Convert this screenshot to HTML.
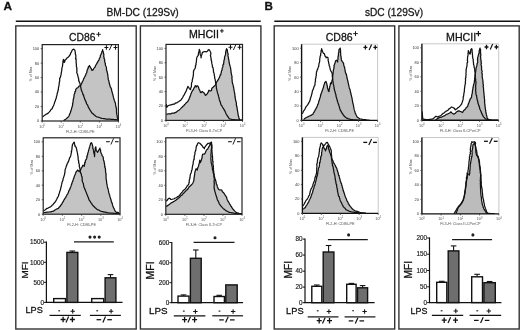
<!DOCTYPE html>
<html><head><meta charset="utf-8"><style>
html,body{margin:0;padding:0;background:#fff;}
svg{display:block;font-family:"Liberation Sans", sans-serif;filter:blur(0.4px);}
.b{stroke:#111;stroke-width:0.28px;}
</style></head><body>
<svg width="520" height="330" viewBox="0 0 520 330">
<rect width="520" height="330" fill="#fff"/>
<text class="b" x="3.6" y="9.8" font-size="11.8" text-anchor="start" fill="#111" font-weight="bold" >A</text>
<text class="b" x="264.4" y="9.8" font-size="11.6" text-anchor="start" fill="#111" font-weight="bold" >B</text>
<text class="b" x="142.6" y="16.0" font-size="11" text-anchor="middle" fill="#1a1a1a" font-weight="normal" textLength="72.3" lengthAdjust="spacingAndGlyphs">BM-DC (129Sv)</text>
<text class="b" x="394.0" y="16.0" font-size="11" text-anchor="middle" fill="#1a1a1a" font-weight="normal" textLength="58.2" lengthAdjust="spacingAndGlyphs">sDC (129Sv)</text>
<line x1="15.8" y1="21.2" x2="260.7" y2="21.2" stroke="#111" stroke-width="1.6"/>
<line x1="274.3" y1="21.2" x2="520" y2="21.2" stroke="#111" stroke-width="1.6"/>
<rect x="15.8" y="25.9" width="120.4" height="303.1" fill="none" stroke="#333" stroke-width="1.4"/>
<rect x="140.4" y="25.9" width="120.5" height="303.1" fill="none" stroke="#333" stroke-width="1.4"/>
<rect x="274.2" y="25.9" width="120.5" height="303.1" fill="none" stroke="#333" stroke-width="1.4"/>
<rect x="398.9" y="25.9" width="120.3" height="303.1" fill="none" stroke="#333" stroke-width="1.4"/>
<text class="b" x="69.0" y="40.6" font-size="11.0" fill="#111" textLength="26.4" lengthAdjust="spacingAndGlyphs">CD86</text>
<path d="M96.40 34.30H100.80M98.60 31.99V36.61" stroke="#111" stroke-width="0.95" fill="none"/>
<text class="b" x="189.0" y="37.5" font-size="10.6" fill="#111" textLength="30.0" lengthAdjust="spacingAndGlyphs">MHCII</text>
<path d="M220.00 30.90H223.80M221.90 28.90V32.89" stroke="#111" stroke-width="0.95" fill="none"/>
<text class="b" x="325.7" y="40.6" font-size="11.2" fill="#111" textLength="27.0" lengthAdjust="spacingAndGlyphs">CD86</text>
<path d="M353.20 33.60H357.80M355.50 31.19V36.02" stroke="#111" stroke-width="0.95" fill="none"/>
<text class="b" x="446.0" y="40.5" font-size="10.8" fill="#111" textLength="30.2" lengthAdjust="spacingAndGlyphs">MHCII</text>
<path d="M475.90 33.60H480.90M478.40 30.98V36.23" stroke="#111" stroke-width="1.15" fill="none"/>
<clipPath id="c18"><rect x="42.2" y="44.6" width="76.2" height="76.4"/></clipPath>
<g clip-path="url(#c18)">
<polygon points="63.5,121.0 63.5,120.6 64.4,120.1 65.2,119.5 66.1,118.9 66.8,118.3 67.4,117.6 68.0,117.2 68.7,116.3 69.2,115.5 69.5,114.4 69.8,113.9 70.3,112.8 70.6,111.8 70.9,110.8 71.2,110.0 71.4,109.1 71.7,108.0 72.0,107.5 72.2,106.2 72.5,105.5 72.7,105.1 72.5,103.8 72.9,102.9 73.0,102.2 73.1,100.9 73.2,100.0 73.5,98.6 73.5,98.3 73.9,97.6 73.9,96.0 74.1,95.5 74.2,94.4 74.5,93.6 74.9,93.3 74.9,91.5 75.5,91.4 75.7,90.5 75.9,89.1 76.8,88.1 77.7,87.7 78.2,87.3 79.3,85.9 80.5,85.9 81.0,84.9 81.4,83.6 81.9,83.0 82.3,81.8 82.8,81.1 83.3,79.9 83.5,79.1 84.1,78.2 84.5,77.1 85.0,76.3 85.5,75.4 85.9,74.5 86.0,73.6 86.7,72.9 86.8,72.0 87.0,71.1 87.4,69.3 87.7,69.1 88.3,67.9 88.2,66.9 89.3,66.0 89.5,65.5 89.9,66.6 90.7,67.9 91.2,68.4 91.6,69.7 92.0,70.3 93.0,69.9 93.8,68.5 94.5,67.5 95.1,67.1 95.6,65.5 96.0,64.9 96.9,63.4 97.4,62.4 98.0,61.4 98.4,60.8 99.2,59.6 99.2,58.8 99.5,58.4 100.3,57.0 100.3,55.9 100.5,55.1 101.1,54.3 101.7,52.7 102.0,51.2 102.5,50.9 102.6,49.7 102.9,51.0 103.3,52.1 103.5,52.7 103.6,53.8 103.9,54.6 103.8,55.2 103.7,56.6 104.1,57.6 104.0,58.4 104.6,59.3 104.7,60.8 104.7,61.5 105.2,63.3 105.3,63.6 105.4,65.0 105.5,65.5 106.2,66.8 106.3,66.8 106.5,68.5 106.4,69.7 106.7,69.9 106.9,71.3 107.3,72.6 107.6,73.8 107.7,74.6 108.0,76.0 107.9,75.9 108.0,76.9 108.2,78.2 108.2,79.3 108.5,80.0 108.8,80.6 109.0,82.0 109.2,83.0 109.6,84.3 109.8,85.1 110.1,86.0 110.2,86.9 110.9,87.7 111.3,88.9 111.6,89.4 111.6,90.8 112.0,91.6 112.3,92.7 112.4,93.5 112.8,94.3 113.0,95.3 113.3,96.5 113.4,97.2 113.7,98.3 114.0,99.1 114.3,100.4 114.7,101.3 115.1,102.6 115.5,103.5 115.6,104.9 115.8,105.5 115.7,106.4 116.1,107.0 116.2,108.0 116.5,109.0 116.5,109.9 116.5,110.9 116.5,111.7 116.6,112.6 116.7,113.7 116.8,114.4 117.1,115.4 117.2,116.3 117.3,117.4 117.5,118.2 117.9,119.3 118.2,120.6 118.2,121.0" fill="#c4c4c4" stroke="none"/>
<polyline points="63.5,120.6 64.4,120.1 65.2,119.5 66.1,118.9 66.8,118.3 67.4,117.6 68.0,117.2 68.7,116.3 69.2,115.5 69.5,114.4 69.8,113.9 70.3,112.8 70.6,111.8 70.9,110.8 71.2,110.0 71.4,109.1 71.7,108.0 72.0,107.5 72.2,106.2 72.5,105.5 72.7,105.1 72.5,103.8 72.9,102.9 73.0,102.2 73.1,100.9 73.2,100.0 73.5,98.6 73.5,98.3 73.9,97.6 73.9,96.0 74.1,95.5 74.2,94.4 74.5,93.6 74.9,93.3 74.9,91.5 75.5,91.4 75.7,90.5 75.9,89.1 76.8,88.1 77.7,87.7 78.2,87.3 79.3,85.9 80.5,85.9 81.0,84.9 81.4,83.6 81.9,83.0 82.3,81.8 82.8,81.1 83.3,79.9 83.5,79.1 84.1,78.2 84.5,77.1 85.0,76.3 85.5,75.4 85.9,74.5 86.0,73.6 86.7,72.9 86.8,72.0 87.0,71.1 87.4,69.3 87.7,69.1 88.3,67.9 88.2,66.9 89.3,66.0 89.5,65.5 89.9,66.6 90.7,67.9 91.2,68.4 91.6,69.7 92.0,70.3 93.0,69.9 93.8,68.5 94.5,67.5 95.1,67.1 95.6,65.5 96.0,64.9 96.9,63.4 97.4,62.4 98.0,61.4 98.4,60.8 99.2,59.6 99.2,58.8 99.5,58.4 100.3,57.0 100.3,55.9 100.5,55.1 101.1,54.3 101.7,52.7 102.0,51.2 102.5,50.9 102.6,49.7 102.9,51.0 103.3,52.1 103.5,52.7 103.6,53.8 103.9,54.6 103.8,55.2 103.7,56.6 104.1,57.6 104.0,58.4 104.6,59.3 104.7,60.8 104.7,61.5 105.2,63.3 105.3,63.6 105.4,65.0 105.5,65.5 106.2,66.8 106.3,66.8 106.5,68.5 106.4,69.7 106.7,69.9 106.9,71.3 107.3,72.6 107.6,73.8 107.7,74.6 108.0,76.0 107.9,75.9 108.0,76.9 108.2,78.2 108.2,79.3 108.5,80.0 108.8,80.6 109.0,82.0 109.2,83.0 109.6,84.3 109.8,85.1 110.1,86.0 110.2,86.9 110.9,87.7 111.3,88.9 111.6,89.4 111.6,90.8 112.0,91.6 112.3,92.7 112.4,93.5 112.8,94.3 113.0,95.3 113.3,96.5 113.4,97.2 113.7,98.3 114.0,99.1 114.3,100.4 114.7,101.3 115.1,102.6 115.5,103.5 115.6,104.9 115.8,105.5 115.7,106.4 116.1,107.0 116.2,108.0 116.5,109.0 116.5,109.9 116.5,110.9 116.5,111.7 116.6,112.6 116.7,113.7 116.8,114.4 117.1,115.4 117.2,116.3 117.3,117.4 117.5,118.2 117.9,119.3 118.2,120.6" fill="none" stroke="#111" stroke-width="1.25" stroke-linejoin="round"/>
<polyline points="42.5,117.0 43.4,116.3 44.2,115.6 45.1,115.0 45.8,114.4 46.6,114.2 47.4,113.6 48.2,113.1 48.9,112.5 49.6,111.5 50.2,111.1 50.7,109.9 51.4,109.3 52.1,108.7 52.5,107.9 52.8,107.0 53.3,106.1 53.8,105.0 54.0,104.2 54.4,103.5 54.6,102.4 54.9,101.6 55.3,100.9 55.5,99.8 55.9,99.1 56.3,98.0 56.4,97.0 56.5,96.4 57.0,95.3 57.1,93.8 57.2,93.4 57.6,92.6 57.8,91.5 58.1,90.2 58.3,89.9 58.4,89.2 58.4,87.9 58.7,87.1 58.8,85.9 59.1,85.1 59.2,83.8 59.1,83.5 59.5,81.6 59.7,81.5 59.7,80.0 59.6,78.4 60.0,78.2 60.5,76.7 60.6,76.6 60.8,75.3 61.1,74.8 61.2,73.3 61.4,72.5 61.7,70.7 61.8,70.6 61.8,68.5 61.8,68.5 62.2,67.2 62.5,66.1 62.7,64.7 62.6,64.4 62.8,63.3 63.0,62.2 63.0,61.2 63.2,60.0 63.6,59.4 63.8,60.8 64.2,61.1 64.2,62.4 64.6,62.2 65.0,60.2 65.5,60.0 66.1,59.1 66.5,58.9 67.3,57.5 68.0,57.4 69.1,56.3 69.7,55.1 70.1,55.0 70.5,53.7 70.9,52.7 71.5,51.8 72.0,50.6 72.5,49.7 73.7,49.1 74.9,50.3 75.1,51.5 75.3,52.6 75.4,54.2 75.4,54.1 75.8,55.3 75.8,56.3 75.9,57.1 75.5,58.9 76.0,58.6 76.1,60.1 76.2,60.7 76.1,61.9 76.3,63.6 76.3,63.4 76.4,64.4 76.4,64.4 76.4,66.7 76.7,67.2 76.9,68.5 76.7,68.5 76.8,70.0 77.0,70.8 76.7,72.2 77.0,73.1 77.2,73.9 77.7,74.6 77.7,75.5 78.0,76.3 78.2,77.6 78.6,78.2 78.6,79.4 78.7,80.9 79.1,80.9 79.3,82.1 79.7,82.8 80.0,83.7 80.0,84.1 80.5,85.5 80.6,86.6 80.7,87.0 81.1,88.6 81.1,89.5 81.4,90.0 81.6,90.9 82.2,92.0 82.5,92.5 82.7,93.6 83.0,94.8 83.6,94.9 83.7,96.3 84.2,97.4 84.5,98.2 84.7,99.4 85.3,100.2 85.5,101.1 86.0,101.5 86.2,102.5 86.5,103.7 86.9,104.2 87.3,104.6 87.8,105.5 88.2,106.8 88.7,107.6 89.2,108.5 89.5,109.3 90.1,110.0 90.6,111.1 91.1,111.5 91.4,112.1 92.0,113.1 92.8,113.5 93.5,114.2 94.3,115.0 95.1,115.6 95.8,116.3 96.7,116.8 97.5,117.0 98.3,117.2 99.2,117.5 100.0,117.7 100.9,118.2 101.8,118.4 102.8,118.5 103.6,118.6 104.5,118.7 105.5,119.0 106.4,119.0 107.3,119.2 108.2,119.1 109.2,119.2 110.2,119.2 111.0,119.3 112.0,119.4 113.0,119.3 113.9,119.5 114.9,119.5 116.1,119.7 117.2,119.9 118.4,120.0" fill="none" stroke="#111" stroke-width="1.25" stroke-linejoin="round"/>
</g>
<rect x="42.2" y="44.6" width="76.2" height="76.4" fill="none" stroke="#222" stroke-width="1.2"/>
<line x1="40.7" y1="121.0" x2="42.2" y2="121.0" stroke="#333" stroke-width="0.8"/>
<text x="39.2" y="122.4" font-size="3.9" text-anchor="end" fill="#333">0</text>
<line x1="40.7" y1="106.5" x2="42.2" y2="106.5" stroke="#333" stroke-width="0.8"/>
<text x="39.2" y="107.9" font-size="3.9" text-anchor="end" fill="#333">20</text>
<line x1="40.7" y1="92.0" x2="42.2" y2="92.0" stroke="#333" stroke-width="0.8"/>
<text x="39.2" y="93.4" font-size="3.9" text-anchor="end" fill="#333">40</text>
<line x1="40.7" y1="77.6" x2="42.2" y2="77.6" stroke="#333" stroke-width="0.8"/>
<text x="39.2" y="79.0" font-size="3.9" text-anchor="end" fill="#333">60</text>
<line x1="40.7" y1="63.1" x2="42.2" y2="63.1" stroke="#333" stroke-width="0.8"/>
<text x="39.2" y="64.5" font-size="3.9" text-anchor="end" fill="#333">80</text>
<line x1="40.7" y1="48.6" x2="42.2" y2="48.6" stroke="#333" stroke-width="0.8"/>
<text x="39.2" y="50.0" font-size="3.9" text-anchor="end" fill="#333">100</text>
<line x1="42.2" y1="121.0" x2="42.2" y2="122.5" stroke="#333" stroke-width="0.8"/>
<text x="42.2" y="127.5" font-size="3.8" text-anchor="middle" fill="#555">10<tspan font-size="2.6" dy="-1.5">0</tspan></text>
<line x1="61.2" y1="121.0" x2="61.2" y2="122.5" stroke="#333" stroke-width="0.8"/>
<text x="61.2" y="127.5" font-size="3.8" text-anchor="middle" fill="#555">10<tspan font-size="2.6" dy="-1.5">1</tspan></text>
<line x1="80.3" y1="121.0" x2="80.3" y2="122.5" stroke="#333" stroke-width="0.8"/>
<text x="80.3" y="127.5" font-size="3.8" text-anchor="middle" fill="#555">10<tspan font-size="2.6" dy="-1.5">2</tspan></text>
<line x1="99.4" y1="121.0" x2="99.4" y2="122.5" stroke="#333" stroke-width="0.8"/>
<text x="99.4" y="127.5" font-size="3.8" text-anchor="middle" fill="#555">10<tspan font-size="2.6" dy="-1.5">3</tspan></text>
<line x1="118.4" y1="121.0" x2="118.4" y2="122.5" stroke="#333" stroke-width="0.8"/>
<text x="118.4" y="127.5" font-size="3.8" text-anchor="middle" fill="#555">10<tspan font-size="2.6" dy="-1.5">4</tspan></text>
<text x="80.3" y="132.5" font-size="3.8" text-anchor="middle" fill="#555">FL2-H: CD86-PE</text>
<text transform="translate(32.0,74.0) rotate(-90)" font-size="3.5" text-anchor="middle" fill="#444">% of Max</text>
<path d="M104.40 47.50H108.40M106.40 45.20V49.80" stroke="#111" stroke-width="1.05" fill="none"/>
<path d="M109.30 50.20L112.00 44.30" stroke="#111" stroke-width="0.9450000000000001" fill="none"/>
<path d="M113.50 47.50H117.50M115.50 45.20V49.80" stroke="#111" stroke-width="1.05" fill="none"/>
<clipPath id="c52"><rect x="43.2" y="137.8" width="76.8" height="76.39999999999998"/></clipPath>
<g clip-path="url(#c52)">
<polygon points="43.5,214.2 43.5,212.6 44.5,212.5 45.8,212.3 47.1,212.2 48.1,212.2 49.0,212.0 50.0,211.9 50.9,211.8 52.2,211.4 53.5,211.2 54.2,210.6 55.0,210.0 55.8,209.5 56.6,209.2 57.5,208.6 58.3,208.3 58.9,207.5 59.7,206.7 60.4,206.0 61.0,204.9 61.7,204.2 62.3,202.9 62.6,202.4 63.0,201.8 63.6,200.9 64.1,199.6 64.4,199.4 65.0,198.3 65.5,197.6 66.0,196.7 66.4,196.1 66.8,195.2 67.3,194.3 68.0,193.3 68.3,192.5 68.6,191.8 68.9,190.6 69.5,190.1 69.8,189.3 70.2,188.3 70.4,187.4 70.8,186.7 71.1,185.9 71.4,184.6 71.9,183.6 72.0,182.8 72.5,181.7 72.9,180.8 73.3,179.4 73.5,178.6 74.0,177.9 74.2,176.7 74.7,175.4 75.3,174.3 75.6,173.4 75.8,172.5 76.5,171.4 76.6,171.6 77.5,170.0 78.4,170.7 79.2,171.7 79.6,170.8 80.3,170.8 80.8,169.2 81.4,167.8 81.8,167.5 82.6,165.7 83.0,165.1 84.2,166.3 84.4,165.1 84.7,164.7 84.6,162.7 85.2,162.7 85.4,160.9 85.5,160.2 86.2,159.5 86.7,158.4 86.9,156.6 87.2,157.0 86.9,156.0 87.6,154.9 87.5,154.9 87.9,153.0 88.2,151.9 88.4,151.4 88.7,150.0 88.9,149.4 89.3,148.0 89.7,146.9 89.8,146.1 90.4,144.4 90.4,144.3 90.7,143.3 91.5,142.7 92.1,144.0 92.4,145.1 92.6,145.7 92.9,147.4 92.7,148.1 93.3,149.3 93.5,150.7 93.6,151.1 93.7,152.1 93.8,152.5 94.0,153.6 94.3,154.3 94.5,155.2 94.5,156.6 94.6,155.3 94.7,155.3 94.7,153.5 94.5,152.9 94.9,151.6 95.0,150.7 95.2,150.3 95.2,149.4 95.2,148.1 95.8,146.9 95.9,147.7 96.0,148.6 96.0,149.5 96.4,150.5 97.0,151.3 97.6,152.4 98.0,151.2 98.4,150.9 98.8,149.9 99.0,149.9 100.0,148.1 99.8,148.9 100.7,150.4 100.5,149.8 100.6,151.8 101.2,153.2 101.8,154.2 102.0,155.6 103.0,156.6 103.3,157.9 103.3,158.6 103.5,159.9 103.7,160.8 104.0,160.8 104.2,162.7 104.5,163.7 104.5,164.2 104.7,165.7 105.1,166.8 104.7,166.9 105.4,168.5 105.5,169.4 105.5,170.0 105.5,170.8 105.6,172.3 105.7,172.4 106.2,174.8 105.9,174.8 106.1,176.0 106.0,177.1 106.1,178.5 106.1,179.1 106.4,179.7 106.5,180.8 106.6,181.9 106.7,183.0 106.7,183.3 107.0,184.4 107.2,185.7 107.4,186.7 107.7,187.8 107.8,188.4 108.1,189.0 108.4,190.7 108.6,191.5 108.8,192.7 109.1,193.6 109.3,194.4 109.7,195.3 109.8,196.1 110.0,196.9 110.5,198.3 110.7,198.9 111.0,200.0 111.2,200.7 111.4,201.9 111.9,202.5 112.2,203.8 112.4,204.4 112.7,205.4 113.1,206.5 113.4,207.6 114.0,208.3 114.3,209.3 114.6,210.0 115.0,210.9 116.0,212.0 116.9,212.8 117.9,212.2 119.0,213.5 120.0,214.2 120.0,214.2" fill="#c4c4c4" stroke="none"/>
<polyline points="43.5,212.6 44.5,212.5 45.8,212.3 47.1,212.2 48.1,212.2 49.0,212.0 50.0,211.9 50.9,211.8 52.2,211.4 53.5,211.2 54.2,210.6 55.0,210.0 55.8,209.5 56.6,209.2 57.5,208.6 58.3,208.3 58.9,207.5 59.7,206.7 60.4,206.0 61.0,204.9 61.7,204.2 62.3,202.9 62.6,202.4 63.0,201.8 63.6,200.9 64.1,199.6 64.4,199.4 65.0,198.3 65.5,197.6 66.0,196.7 66.4,196.1 66.8,195.2 67.3,194.3 68.0,193.3 68.3,192.5 68.6,191.8 68.9,190.6 69.5,190.1 69.8,189.3 70.2,188.3 70.4,187.4 70.8,186.7 71.1,185.9 71.4,184.6 71.9,183.6 72.0,182.8 72.5,181.7 72.9,180.8 73.3,179.4 73.5,178.6 74.0,177.9 74.2,176.7 74.7,175.4 75.3,174.3 75.6,173.4 75.8,172.5 76.5,171.4 76.6,171.6 77.5,170.0 78.4,170.7 79.2,171.7 79.6,170.8 80.3,170.8 80.8,169.2 81.4,167.8 81.8,167.5 82.6,165.7 83.0,165.1 84.2,166.3 84.4,165.1 84.7,164.7 84.6,162.7 85.2,162.7 85.4,160.9 85.5,160.2 86.2,159.5 86.7,158.4 86.9,156.6 87.2,157.0 86.9,156.0 87.6,154.9 87.5,154.9 87.9,153.0 88.2,151.9 88.4,151.4 88.7,150.0 88.9,149.4 89.3,148.0 89.7,146.9 89.8,146.1 90.4,144.4 90.4,144.3 90.7,143.3 91.5,142.7 92.1,144.0 92.4,145.1 92.6,145.7 92.9,147.4 92.7,148.1 93.3,149.3 93.5,150.7 93.6,151.1 93.7,152.1 93.8,152.5 94.0,153.6 94.3,154.3 94.5,155.2 94.5,156.6 94.6,155.3 94.7,155.3 94.7,153.5 94.5,152.9 94.9,151.6 95.0,150.7 95.2,150.3 95.2,149.4 95.2,148.1 95.8,146.9 95.9,147.7 96.0,148.6 96.0,149.5 96.4,150.5 97.0,151.3 97.6,152.4 98.0,151.2 98.4,150.9 98.8,149.9 99.0,149.9 100.0,148.1 99.8,148.9 100.7,150.4 100.5,149.8 100.6,151.8 101.2,153.2 101.8,154.2 102.0,155.6 103.0,156.6 103.3,157.9 103.3,158.6 103.5,159.9 103.7,160.8 104.0,160.8 104.2,162.7 104.5,163.7 104.5,164.2 104.7,165.7 105.1,166.8 104.7,166.9 105.4,168.5 105.5,169.4 105.5,170.0 105.5,170.8 105.6,172.3 105.7,172.4 106.2,174.8 105.9,174.8 106.1,176.0 106.0,177.1 106.1,178.5 106.1,179.1 106.4,179.7 106.5,180.8 106.6,181.9 106.7,183.0 106.7,183.3 107.0,184.4 107.2,185.7 107.4,186.7 107.7,187.8 107.8,188.4 108.1,189.0 108.4,190.7 108.6,191.5 108.8,192.7 109.1,193.6 109.3,194.4 109.7,195.3 109.8,196.1 110.0,196.9 110.5,198.3 110.7,198.9 111.0,200.0 111.2,200.7 111.4,201.9 111.9,202.5 112.2,203.8 112.4,204.4 112.7,205.4 113.1,206.5 113.4,207.6 114.0,208.3 114.3,209.3 114.6,210.0 115.0,210.9 116.0,212.0 116.9,212.8 117.9,212.2 119.0,213.5 120.0,214.2" fill="none" stroke="#111" stroke-width="1.25" stroke-linejoin="round"/>
<polyline points="43.3,210.9 44.5,210.3 45.4,209.7 46.3,208.9 47.1,208.4 48.1,208.1 49.0,207.5 49.9,207.2 50.9,206.5 51.5,206.0 52.2,205.1 52.8,204.8 53.5,203.8 54.1,203.3 54.6,202.5 55.2,202.1 55.8,200.9 56.2,200.3 56.6,199.5 57.1,198.4 57.7,197.2 58.0,196.9 58.6,195.7 58.7,194.4 59.1,194.1 59.4,192.9 59.6,192.0 59.8,191.1 60.3,190.2 60.5,189.3 60.7,188.4 61.0,187.0 61.4,186.1 61.4,185.4 61.7,184.2 61.9,183.0 62.2,181.9 62.5,181.2 63.0,180.3 63.0,179.1 63.4,177.9 63.5,177.9 64.1,175.9 64.4,175.0 64.6,174.1 64.7,173.0 65.0,172.2 65.0,171.2 65.1,169.6 65.3,169.2 65.8,167.9 66.0,167.1 66.2,166.3 66.6,165.7 66.9,164.8 67.3,163.3 67.6,163.1 68.1,162.1 68.6,161.1 68.9,159.8 69.1,159.9 69.5,158.2 69.9,157.2 70.4,156.9 70.8,155.4 70.9,154.8 71.2,153.4 71.6,151.7 71.2,151.8 71.7,150.5 71.8,149.8 72.0,148.8 72.0,147.0 72.1,147.3 72.3,145.7 72.6,144.1 73.3,143.3 74.1,142.1 74.4,142.6 74.6,144.9 75.2,145.4 75.0,146.3 76.3,147.5 76.4,148.4 76.8,149.9 76.8,150.3 77.2,151.8 77.4,152.9 77.5,153.3 77.7,154.6 77.8,155.8 78.1,156.7 78.1,157.8 78.2,159.3 78.3,160.2 78.7,160.9 78.6,162.4 78.9,162.9 79.0,163.9 79.2,164.3 79.4,165.6 79.2,166.4 79.7,167.8 79.8,168.7 80.1,169.5 80.1,170.6 80.2,171.8 80.6,172.4 80.8,173.6 81.3,174.0 81.4,175.2 81.5,176.0 82.0,176.9 82.2,177.6 82.1,178.6 82.3,179.8 82.1,180.3 82.5,181.6 82.9,182.7 83.4,183.6 83.4,184.4 83.7,185.5 83.8,186.6 83.8,187.0 84.5,188.0 84.8,189.1 85.4,190.1 85.5,190.7 85.8,191.5 86.3,192.4 86.6,193.5 87.0,194.4 87.4,195.3 87.7,196.3 88.1,197.2 88.5,197.8 88.7,199.0 89.2,200.0 89.5,200.7 90.2,201.2 90.6,202.3 91.1,203.0 91.7,203.4 92.1,204.5 92.7,205.2 93.5,206.0 94.2,206.8 94.9,207.5 95.8,208.2 96.5,209.0 97.3,209.6 98.3,209.8 99.1,210.2 99.9,210.8 100.7,211.2 101.6,211.5 102.5,211.7 103.5,211.9 104.3,212.2 105.3,212.2 106.2,212.4 107.1,212.7 108.0,212.8 108.9,212.9 109.9,213.0 110.8,213.0 111.8,213.1 112.7,213.2 113.7,213.4 114.7,213.4 115.6,213.5 116.7,213.6 117.8,213.6 118.9,213.8 120.0,213.8" fill="none" stroke="#111" stroke-width="1.25" stroke-linejoin="round"/>
</g>
<rect x="43.2" y="137.8" width="76.8" height="76.4" fill="none" stroke="#222" stroke-width="1.2"/>
<line x1="41.7" y1="214.2" x2="43.2" y2="214.2" stroke="#333" stroke-width="0.8"/>
<text x="40.2" y="215.6" font-size="3.9" text-anchor="end" fill="#333">0</text>
<line x1="41.7" y1="199.7" x2="43.2" y2="199.7" stroke="#333" stroke-width="0.8"/>
<text x="40.2" y="201.1" font-size="3.9" text-anchor="end" fill="#333">20</text>
<line x1="41.7" y1="185.2" x2="43.2" y2="185.2" stroke="#333" stroke-width="0.8"/>
<text x="40.2" y="186.6" font-size="3.9" text-anchor="end" fill="#333">40</text>
<line x1="41.7" y1="170.8" x2="43.2" y2="170.8" stroke="#333" stroke-width="0.8"/>
<text x="40.2" y="172.2" font-size="3.9" text-anchor="end" fill="#333">60</text>
<line x1="41.7" y1="156.3" x2="43.2" y2="156.3" stroke="#333" stroke-width="0.8"/>
<text x="40.2" y="157.7" font-size="3.9" text-anchor="end" fill="#333">80</text>
<line x1="41.7" y1="141.8" x2="43.2" y2="141.8" stroke="#333" stroke-width="0.8"/>
<text x="40.2" y="143.2" font-size="3.9" text-anchor="end" fill="#333">100</text>
<line x1="43.2" y1="214.2" x2="43.2" y2="215.7" stroke="#333" stroke-width="0.8"/>
<text x="43.2" y="220.7" font-size="3.8" text-anchor="middle" fill="#555">10<tspan font-size="2.6" dy="-1.5">0</tspan></text>
<line x1="62.4" y1="214.2" x2="62.4" y2="215.7" stroke="#333" stroke-width="0.8"/>
<text x="62.4" y="220.7" font-size="3.8" text-anchor="middle" fill="#555">10<tspan font-size="2.6" dy="-1.5">1</tspan></text>
<line x1="81.6" y1="214.2" x2="81.6" y2="215.7" stroke="#333" stroke-width="0.8"/>
<text x="81.6" y="220.7" font-size="3.8" text-anchor="middle" fill="#555">10<tspan font-size="2.6" dy="-1.5">2</tspan></text>
<line x1="100.8" y1="214.2" x2="100.8" y2="215.7" stroke="#333" stroke-width="0.8"/>
<text x="100.8" y="220.7" font-size="3.8" text-anchor="middle" fill="#555">10<tspan font-size="2.6" dy="-1.5">3</tspan></text>
<line x1="120.0" y1="214.2" x2="120.0" y2="215.7" stroke="#333" stroke-width="0.8"/>
<text x="120.0" y="220.7" font-size="3.8" text-anchor="middle" fill="#555">10<tspan font-size="2.6" dy="-1.5">4</tspan></text>
<text x="81.6" y="225.7" font-size="3.8" text-anchor="middle" fill="#555">FL2-H: CD86-PE</text>
<text transform="translate(33.0,167.2) rotate(-90)" font-size="3.5" text-anchor="middle" fill="#444">% of Max</text>
<path d="M106.10 141.70H109.80" stroke="#111" stroke-width="1.05" fill="none"/>
<path d="M110.90 144.50L113.60 138.30" stroke="#111" stroke-width="0.9450000000000001" fill="none"/>
<path d="M115.00 141.70H118.60" stroke="#111" stroke-width="1.05" fill="none"/>
<clipPath id="c86"><rect x="166.0" y="44.4" width="76.5" height="76.0"/></clipPath>
<g clip-path="url(#c86)">
<polygon points="166.3,120.4 166.3,114.4 167.3,114.2 168.2,113.8 169.1,113.8 170.5,113.9 171.6,113.4 172.9,113.2 174.2,113.1 175.1,112.6 175.9,112.4 176.7,111.8 177.6,111.0 178.5,110.5 179.3,109.9 180.2,109.1 180.9,108.4 181.8,107.4 182.6,106.8 183.1,106.0 183.9,105.7 184.4,104.8 185.1,104.1 186.1,102.9 186.9,102.3 187.8,101.5 188.3,100.4 188.8,99.7 189.1,98.9 189.7,97.4 190.1,96.6 190.4,95.5 190.7,94.8 191.0,93.8 191.4,92.7 191.9,91.7 192.3,90.9 192.7,90.2 193.3,89.7 193.9,88.3 194.4,87.4 194.9,86.5 195.2,85.7 196.1,87.0 197.1,85.7 197.8,86.0 198.4,87.0 198.7,87.9 199.2,89.6 199.7,90.2 200.2,91.5 200.4,92.3 200.9,92.7 202.2,91.5 203.2,92.4 203.9,92.7 204.5,93.5 205.2,95.1 205.8,95.3 206.4,94.5 207.1,94.0 207.6,93.2 208.2,92.1 208.6,91.1 209.0,90.2 209.8,90.9 210.9,90.8 211.6,90.3 211.7,88.8 212.1,88.1 212.8,87.6 213.5,86.8 214.7,85.7 215.5,84.9 216.0,83.8 216.4,82.5 217.0,81.5 217.3,81.3 217.7,80.2 218.3,79.7 218.7,78.7 219.2,77.8 219.6,77.2 220.0,75.8 220.3,74.6 220.7,74.9 221.1,72.8 221.4,72.3 221.4,71.0 222.0,70.1 222.1,69.6 222.2,68.1 222.6,67.5 222.9,67.0 222.8,65.2 223.7,64.0 223.5,63.1 223.8,62.6 223.9,61.7 223.9,60.6 224.5,59.3 224.5,58.5 224.5,57.8 224.9,55.9 225.3,55.3 225.6,54.4 225.7,52.7 225.6,52.3 225.9,51.1 226.1,50.1 226.6,48.7 226.9,49.4 227.2,49.5 227.5,51.7 227.4,52.3 228.0,53.6 228.2,54.6 227.9,55.3 228.4,57.4 228.5,57.8 228.5,59.1 228.9,60.0 229.0,60.9 229.0,62.1 229.3,62.6 229.3,63.2 229.7,65.0 229.9,65.1 230.1,66.4 230.5,67.5 230.6,68.3 230.7,69.1 230.9,70.3 231.1,71.2 230.9,72.2 231.3,72.8 231.3,74.2 231.7,74.8 231.7,75.5 232.0,76.5 232.1,77.4 231.8,77.9 232.1,79.7 232.2,80.4 232.1,81.3 232.3,82.0 232.5,83.3 232.9,84.4 233.2,85.1 233.2,85.5 233.5,87.3 233.7,87.8 233.8,88.8 234.0,89.9 234.2,91.2 234.5,92.3 234.5,92.7 234.8,94.1 234.8,94.7 234.9,95.6 235.0,96.5 235.3,97.9 235.2,98.4 235.5,99.4 235.7,100.4 235.8,101.1 236.1,101.8 236.4,103.2 236.3,104.2 236.5,105.4 236.6,106.1 237.0,106.9 237.0,108.0 237.3,109.1 237.3,109.8 237.5,110.7 237.7,111.6 237.9,112.9 238.0,113.6 238.1,114.6 238.3,115.6 238.6,116.4 238.9,117.7 239.2,118.5 239.5,119.5 240.5,120.4 240.5,120.4" fill="#c4c4c4" stroke="none"/>
<polyline points="166.3,114.4 167.3,114.2 168.2,113.8 169.1,113.8 170.5,113.9 171.6,113.4 172.9,113.2 174.2,113.1 175.1,112.6 175.9,112.4 176.7,111.8 177.6,111.0 178.5,110.5 179.3,109.9 180.2,109.1 180.9,108.4 181.8,107.4 182.6,106.8 183.1,106.0 183.9,105.7 184.4,104.8 185.1,104.1 186.1,102.9 186.9,102.3 187.8,101.5 188.3,100.4 188.8,99.7 189.1,98.9 189.7,97.4 190.1,96.6 190.4,95.5 190.7,94.8 191.0,93.8 191.4,92.7 191.9,91.7 192.3,90.9 192.7,90.2 193.3,89.7 193.9,88.3 194.4,87.4 194.9,86.5 195.2,85.7 196.1,87.0 197.1,85.7 197.8,86.0 198.4,87.0 198.7,87.9 199.2,89.6 199.7,90.2 200.2,91.5 200.4,92.3 200.9,92.7 202.2,91.5 203.2,92.4 203.9,92.7 204.5,93.5 205.2,95.1 205.8,95.3 206.4,94.5 207.1,94.0 207.6,93.2 208.2,92.1 208.6,91.1 209.0,90.2 209.8,90.9 210.9,90.8 211.6,90.3 211.7,88.8 212.1,88.1 212.8,87.6 213.5,86.8 214.7,85.7 215.5,84.9 216.0,83.8 216.4,82.5 217.0,81.5 217.3,81.3 217.7,80.2 218.3,79.7 218.7,78.7 219.2,77.8 219.6,77.2 220.0,75.8 220.3,74.6 220.7,74.9 221.1,72.8 221.4,72.3 221.4,71.0 222.0,70.1 222.1,69.6 222.2,68.1 222.6,67.5 222.9,67.0 222.8,65.2 223.7,64.0 223.5,63.1 223.8,62.6 223.9,61.7 223.9,60.6 224.5,59.3 224.5,58.5 224.5,57.8 224.9,55.9 225.3,55.3 225.6,54.4 225.7,52.7 225.6,52.3 225.9,51.1 226.1,50.1 226.6,48.7 226.9,49.4 227.2,49.5 227.5,51.7 227.4,52.3 228.0,53.6 228.2,54.6 227.9,55.3 228.4,57.4 228.5,57.8 228.5,59.1 228.9,60.0 229.0,60.9 229.0,62.1 229.3,62.6 229.3,63.2 229.7,65.0 229.9,65.1 230.1,66.4 230.5,67.5 230.6,68.3 230.7,69.1 230.9,70.3 231.1,71.2 230.9,72.2 231.3,72.8 231.3,74.2 231.7,74.8 231.7,75.5 232.0,76.5 232.1,77.4 231.8,77.9 232.1,79.7 232.2,80.4 232.1,81.3 232.3,82.0 232.5,83.3 232.9,84.4 233.2,85.1 233.2,85.5 233.5,87.3 233.7,87.8 233.8,88.8 234.0,89.9 234.2,91.2 234.5,92.3 234.5,92.7 234.8,94.1 234.8,94.7 234.9,95.6 235.0,96.5 235.3,97.9 235.2,98.4 235.5,99.4 235.7,100.4 235.8,101.1 236.1,101.8 236.4,103.2 236.3,104.2 236.5,105.4 236.6,106.1 237.0,106.9 237.0,108.0 237.3,109.1 237.3,109.8 237.5,110.7 237.7,111.6 237.9,112.9 238.0,113.6 238.1,114.6 238.3,115.6 238.6,116.4 238.9,117.7 239.2,118.5 239.5,119.5 240.5,120.4" fill="none" stroke="#111" stroke-width="1.25" stroke-linejoin="round"/>
<polyline points="166.3,104.0 166.4,105.4 166.4,106.4 166.5,107.4 167.3,106.8 167.8,105.9 168.5,105.5 169.7,105.2 171.0,104.8 172.4,104.4 173.6,104.2 174.5,104.2 175.1,103.4 176.1,102.9 176.9,102.9 177.7,102.1 178.6,101.7 179.5,101.0 180.6,100.4 181.3,99.6 181.9,98.7 182.5,97.8 183.1,96.8 183.3,96.0 183.8,95.4 184.4,94.6 184.9,93.3 185.3,92.6 185.9,91.5 186.4,90.6 186.5,90.0 186.9,88.9 187.4,87.7 187.9,86.4 188.6,87.3 189.2,88.3 189.6,88.9 190.5,89.6 190.6,88.6 190.9,87.8 191.4,86.7 191.4,85.7 191.5,84.3 191.5,83.1 192.1,81.8 192.3,81.3 192.2,80.2 192.6,79.0 192.6,78.3 193.0,77.7 193.1,77.3 193.1,75.8 193.4,75.4 193.4,73.8 193.5,73.1 193.4,71.8 193.7,71.1 194.1,69.7 194.9,68.7 195.2,68.2 195.6,66.4 195.3,66.3 195.8,65.0 196.1,64.8 195.9,63.9 196.3,62.3 196.4,61.2 196.5,60.2 196.5,59.7 196.7,57.8 197.0,57.2 197.3,56.5 198.2,55.3 198.4,54.5 198.4,53.3 198.9,52.1 198.9,51.6 199.3,50.2 199.2,49.3 199.7,50.2 200.0,51.7 200.1,53.2 200.1,54.1 200.5,55.2 200.8,55.1 201.0,56.4 201.0,57.8 201.2,56.5 201.4,56.0 201.6,55.0 202.0,54.2 202.2,52.9 202.5,52.4 203.8,51.7 205.6,51.7 206.6,51.9 207.5,51.1 208.4,49.7 209.3,49.9 210.0,51.0 210.3,51.7 210.6,52.2 210.9,53.6 210.7,54.6 210.4,55.5 210.7,56.6 211.0,58.0 211.2,59.2 210.9,59.4 211.3,60.3 211.6,61.3 211.7,62.6 211.9,63.7 212.1,64.6 212.4,65.6 212.4,66.9 212.7,67.5 213.1,67.8 213.3,69.3 213.3,69.6 213.5,71.1 213.5,72.1 214.0,73.0 214.3,74.5 214.1,74.9 214.6,76.4 214.7,77.2 214.7,78.2 215.2,79.4 215.2,80.3 215.5,81.1 215.6,82.0 215.5,82.8 215.9,84.1 216.1,85.0 216.2,85.8 216.4,86.8 216.4,88.4 216.6,88.9 217.0,90.5 217.2,91.2 217.4,92.4 217.5,92.9 217.9,94.0 218.3,95.1 218.5,96.2 218.7,97.0 219.0,97.7 219.2,99.1 219.4,100.0 219.8,100.8 220.2,102.1 220.5,102.6 220.7,104.0 221.1,104.8 221.5,105.3 222.1,106.2 222.4,107.0 223.0,107.9 223.6,108.6 224.0,109.7 224.5,110.4 225.1,111.4 225.5,112.5 226.0,113.6 226.4,114.4 227.0,115.3 227.5,116.3 228.2,117.0 228.7,117.9 229.4,118.8 230.4,119.0 231.5,119.4 232.5,119.7 233.4,119.7 234.3,119.6 235.2,119.8 236.1,119.8 237.0,119.9 237.9,119.9 238.8,119.8 239.7,119.9 240.6,120.0 241.5,119.9 242.4,120.0" fill="none" stroke="#111" stroke-width="1.25" stroke-linejoin="round"/>
</g>
<rect x="166.0" y="44.4" width="76.5" height="76.0" fill="none" stroke="#222" stroke-width="1.2"/>
<line x1="164.5" y1="120.4" x2="166.0" y2="120.4" stroke="#333" stroke-width="0.8"/>
<text x="163.0" y="121.8" font-size="3.9" text-anchor="end" fill="#333">0</text>
<line x1="164.5" y1="106.0" x2="166.0" y2="106.0" stroke="#333" stroke-width="0.8"/>
<text x="163.0" y="107.4" font-size="3.9" text-anchor="end" fill="#333">20</text>
<line x1="164.5" y1="91.6" x2="166.0" y2="91.6" stroke="#333" stroke-width="0.8"/>
<text x="163.0" y="93.0" font-size="3.9" text-anchor="end" fill="#333">40</text>
<line x1="164.5" y1="77.2" x2="166.0" y2="77.2" stroke="#333" stroke-width="0.8"/>
<text x="163.0" y="78.6" font-size="3.9" text-anchor="end" fill="#333">60</text>
<line x1="164.5" y1="62.8" x2="166.0" y2="62.8" stroke="#333" stroke-width="0.8"/>
<text x="163.0" y="64.2" font-size="3.9" text-anchor="end" fill="#333">80</text>
<line x1="164.5" y1="48.4" x2="166.0" y2="48.4" stroke="#333" stroke-width="0.8"/>
<text x="163.0" y="49.8" font-size="3.9" text-anchor="end" fill="#333">100</text>
<line x1="166.0" y1="120.4" x2="166.0" y2="121.9" stroke="#333" stroke-width="0.8"/>
<text x="166.0" y="126.9" font-size="3.8" text-anchor="middle" fill="#555">10<tspan font-size="2.6" dy="-1.5">0</tspan></text>
<line x1="185.1" y1="120.4" x2="185.1" y2="121.9" stroke="#333" stroke-width="0.8"/>
<text x="185.1" y="126.9" font-size="3.8" text-anchor="middle" fill="#555">10<tspan font-size="2.6" dy="-1.5">1</tspan></text>
<line x1="204.2" y1="120.4" x2="204.2" y2="121.9" stroke="#333" stroke-width="0.8"/>
<text x="204.2" y="126.9" font-size="3.8" text-anchor="middle" fill="#555">10<tspan font-size="2.6" dy="-1.5">2</tspan></text>
<line x1="223.4" y1="120.4" x2="223.4" y2="121.9" stroke="#333" stroke-width="0.8"/>
<text x="223.4" y="126.9" font-size="3.8" text-anchor="middle" fill="#555">10<tspan font-size="2.6" dy="-1.5">3</tspan></text>
<line x1="242.5" y1="120.4" x2="242.5" y2="121.9" stroke="#333" stroke-width="0.8"/>
<text x="242.5" y="126.9" font-size="3.8" text-anchor="middle" fill="#555">10<tspan font-size="2.6" dy="-1.5">4</tspan></text>
<text x="204.2" y="131.9" font-size="3.8" text-anchor="middle" fill="#555">FL3-H: Class II-TriCP</text>
<text transform="translate(155.8,73.6) rotate(-90)" font-size="3.5" text-anchor="middle" fill="#444">% of Max</text>
<path d="M228.50 47.30H232.50M230.50 45.00V49.60" stroke="#111" stroke-width="1.05" fill="none"/>
<path d="M233.40 50.00L236.10 44.10" stroke="#111" stroke-width="0.9450000000000001" fill="none"/>
<path d="M237.60 47.30H241.60M239.60 45.00V49.60" stroke="#111" stroke-width="1.05" fill="none"/>
<clipPath id="c120"><rect x="165.8" y="137.8" width="76.19999999999999" height="76.5"/></clipPath>
<g clip-path="url(#c120)">
<polygon points="166.0,214.3 166.0,206.5 166.8,206.1 167.6,205.6 168.4,205.1 169.1,204.6 169.9,204.0 170.7,203.3 171.6,202.7 172.5,202.5 173.3,201.6 174.2,201.4 175.0,200.7 175.8,200.3 176.7,199.5 177.6,199.0 178.4,198.0 179.3,197.6 180.0,196.9 180.6,196.2 181.1,195.3 182.0,195.2 182.5,194.4 183.1,193.7 183.6,193.4 184.4,192.3 185.0,191.8 185.5,191.3 186.4,190.1 186.9,190.0 187.6,189.3 188.3,188.4 189.0,186.9 189.5,186.7 190.1,186.1 191.0,185.2 192.0,184.2 192.5,183.6 192.9,183.0 193.5,181.4 193.9,180.4 193.9,179.1 194.1,178.1 194.3,176.8 194.3,176.0 194.5,175.3 194.6,174.8 194.7,173.7 194.9,172.4 194.9,171.7 195.5,170.6 195.7,169.5 196.1,168.7 197.3,170.0 197.5,169.0 197.8,167.4 198.1,167.0 198.5,166.3 198.7,164.9 198.9,164.6 199.3,163.1 199.5,162.6 199.5,161.6 199.8,160.2 200.3,161.4 200.4,162.7 200.7,161.6 201.1,161.0 201.4,159.8 201.6,159.0 202.0,158.0 202.2,157.5 202.1,156.4 202.5,154.6 202.8,154.2 204.4,154.2 205.2,153.2 205.6,151.8 206.3,150.5 206.7,149.8 207.5,149.3 208.2,148.0 208.7,146.9 209.5,145.8 209.9,144.5 210.7,143.2 211.1,142.7 211.2,144.0 211.1,144.7 211.2,144.9 211.9,146.0 211.7,147.0 211.5,148.1 211.5,149.2 211.2,150.4 211.3,151.5 211.2,151.6 211.1,153.4 210.9,154.2 210.9,155.8 211.1,156.4 211.2,156.9 210.8,157.7 210.9,159.5 211.1,160.3 211.0,161.2 211.2,162.2 211.3,163.2 211.7,164.1 211.8,164.9 211.8,165.8 212.2,165.8 212.3,167.6 212.4,168.2 212.4,169.6 212.7,170.1 213.0,170.9 213.0,172.1 213.4,172.8 213.5,174.0 213.9,174.7 213.9,176.0 214.4,176.5 214.7,177.8 215.1,178.9 215.5,179.9 215.6,180.5 216.0,181.6 216.2,182.8 216.3,183.9 216.8,184.8 217.1,185.1 217.3,186.7 217.7,187.6 218.1,188.2 218.5,189.3 219.7,190.0 221.1,189.9 221.7,190.0 222.4,191.8 223.3,192.5 224.3,193.7 224.8,194.6 225.5,195.6 226.0,196.3 226.5,197.0 226.8,198.2 227.1,199.2 227.7,200.5 228.1,201.4 228.6,202.0 229.0,202.6 229.5,203.9 230.0,204.5 230.5,205.1 230.9,206.2 231.4,206.6 231.9,207.7 232.6,208.6 233.2,209.5 233.8,210.0 234.5,210.9 235.3,211.6 236.1,212.3 237.0,212.8 238.1,213.1 239.1,213.4 240.2,213.7 241.1,213.9 242.0,214.2 242.0,214.3" fill="#c4c4c4" stroke="none"/>
<polyline points="166.0,206.5 166.8,206.1 167.6,205.6 168.4,205.1 169.1,204.6 169.9,204.0 170.7,203.3 171.6,202.7 172.5,202.5 173.3,201.6 174.2,201.4 175.0,200.7 175.8,200.3 176.7,199.5 177.6,199.0 178.4,198.0 179.3,197.6 180.0,196.9 180.6,196.2 181.1,195.3 182.0,195.2 182.5,194.4 183.1,193.7 183.6,193.4 184.4,192.3 185.0,191.8 185.5,191.3 186.4,190.1 186.9,190.0 187.6,189.3 188.3,188.4 189.0,186.9 189.5,186.7 190.1,186.1 191.0,185.2 192.0,184.2 192.5,183.6 192.9,183.0 193.5,181.4 193.9,180.4 193.9,179.1 194.1,178.1 194.3,176.8 194.3,176.0 194.5,175.3 194.6,174.8 194.7,173.7 194.9,172.4 194.9,171.7 195.5,170.6 195.7,169.5 196.1,168.7 197.3,170.0 197.5,169.0 197.8,167.4 198.1,167.0 198.5,166.3 198.7,164.9 198.9,164.6 199.3,163.1 199.5,162.6 199.5,161.6 199.8,160.2 200.3,161.4 200.4,162.7 200.7,161.6 201.1,161.0 201.4,159.8 201.6,159.0 202.0,158.0 202.2,157.5 202.1,156.4 202.5,154.6 202.8,154.2 204.4,154.2 205.2,153.2 205.6,151.8 206.3,150.5 206.7,149.8 207.5,149.3 208.2,148.0 208.7,146.9 209.5,145.8 209.9,144.5 210.7,143.2 211.1,142.7 211.2,144.0 211.1,144.7 211.2,144.9 211.9,146.0 211.7,147.0 211.5,148.1 211.5,149.2 211.2,150.4 211.3,151.5 211.2,151.6 211.1,153.4 210.9,154.2 210.9,155.8 211.1,156.4 211.2,156.9 210.8,157.7 210.9,159.5 211.1,160.3 211.0,161.2 211.2,162.2 211.3,163.2 211.7,164.1 211.8,164.9 211.8,165.8 212.2,165.8 212.3,167.6 212.4,168.2 212.4,169.6 212.7,170.1 213.0,170.9 213.0,172.1 213.4,172.8 213.5,174.0 213.9,174.7 213.9,176.0 214.4,176.5 214.7,177.8 215.1,178.9 215.5,179.9 215.6,180.5 216.0,181.6 216.2,182.8 216.3,183.9 216.8,184.8 217.1,185.1 217.3,186.7 217.7,187.6 218.1,188.2 218.5,189.3 219.7,190.0 221.1,189.9 221.7,190.0 222.4,191.8 223.3,192.5 224.3,193.7 224.8,194.6 225.5,195.6 226.0,196.3 226.5,197.0 226.8,198.2 227.1,199.2 227.7,200.5 228.1,201.4 228.6,202.0 229.0,202.6 229.5,203.9 230.0,204.5 230.5,205.1 230.9,206.2 231.4,206.6 231.9,207.7 232.6,208.6 233.2,209.5 233.8,210.0 234.5,210.9 235.3,211.6 236.1,212.3 237.0,212.8 238.1,213.1 239.1,213.4 240.2,213.7 241.1,213.9 242.0,214.2" fill="none" stroke="#111" stroke-width="1.25" stroke-linejoin="round"/>
<polyline points="165.9,200.8 166.9,200.6 167.8,199.5 168.3,198.7 169.1,198.2 170.0,198.5 170.7,199.4 171.6,199.5 172.9,199.0 174.2,198.8 175.1,198.0 176.0,197.8 176.7,197.6 177.5,196.6 178.4,196.4 179.3,195.7 179.9,195.0 180.6,193.7 181.2,193.1 181.6,192.5 182.5,191.9 183.1,190.6 183.9,190.1 185.0,189.3 185.6,188.2 186.1,187.9 186.9,186.7 187.3,185.6 188.2,185.0 188.8,184.2 188.9,182.8 189.3,182.5 189.2,181.7 189.3,180.2 189.5,179.4 189.9,178.7 189.7,177.9 190.1,177.4 190.1,176.0 190.3,175.1 190.6,173.6 190.9,173.6 191.3,172.4 191.5,170.9 191.8,170.4 192.1,169.6 192.2,168.0 192.4,167.0 192.5,166.3 192.7,165.3 192.9,164.6 193.2,163.7 193.2,162.3 193.4,160.9 193.7,160.2 193.9,159.1 194.2,159.3 194.2,157.5 194.4,155.9 194.5,155.3 194.9,154.2 195.0,153.8 194.9,152.6 195.5,151.1 195.8,150.2 195.9,149.2 196.1,148.1 196.3,146.4 196.8,145.3 197.0,145.5 197.3,144.5 197.8,143.2 198.5,142.7 199.8,143.3 201.0,144.5 202.2,145.7 203.0,147.3 203.2,147.3 204.0,148.0 204.4,148.8 204.5,147.3 205.1,146.9 205.6,146.2 206.3,145.1 206.9,144.5 208.1,143.3 209.3,143.3 210.5,142.7 211.5,142.1 211.5,144.4 211.7,144.1 211.9,145.1 211.6,146.9 211.9,147.2 212.0,148.1 211.8,149.2 211.7,149.2 212.1,151.1 211.8,151.8 212.1,152.5 212.1,153.0 212.3,154.8 212.3,155.4 212.5,156.3 212.5,157.0 212.6,158.2 212.6,159.0 212.6,159.9 212.8,161.7 213.2,161.9 212.9,162.7 212.8,164.2 213.2,165.0 213.4,166.4 213.1,167.0 213.4,167.5 213.5,168.8 213.4,169.9 213.6,170.5 213.8,171.5 213.6,172.3 214.1,173.7 214.1,174.2 214.1,175.2 214.1,176.0 214.0,177.1 214.2,178.0 214.3,178.5 214.3,180.3 214.2,181.2 214.0,181.4 214.1,182.2 214.2,183.4 214.4,183.7 214.1,185.9 214.2,186.3 214.1,187.2 214.1,188.0 214.3,189.0 214.6,190.1 214.8,191.1 215.1,192.1 215.4,193.1 215.6,194.2 216.0,195.0 216.2,196.0 216.5,196.7 216.9,197.8 217.0,198.6 217.3,199.5 217.7,200.4 218.1,201.0 218.6,202.0 218.9,202.6 219.3,203.8 219.8,204.5 220.5,205.3 221.0,206.1 221.7,206.9 222.4,207.7 223.1,208.4 223.9,209.1 224.7,209.6 225.5,210.3 226.3,210.9 227.1,211.3 228.0,211.8 228.7,212.2 229.7,212.4 230.8,212.5 231.8,212.9 232.8,212.9 233.8,213.2 234.7,213.3 235.6,213.4 236.6,213.4 237.5,213.4 238.4,213.6 239.3,213.6 240.2,213.6 241.1,213.7 242.0,213.8" fill="none" stroke="#111" stroke-width="1.25" stroke-linejoin="round"/>
</g>
<rect x="165.8" y="137.8" width="76.2" height="76.5" fill="none" stroke="#222" stroke-width="1.2"/>
<line x1="164.3" y1="214.3" x2="165.8" y2="214.3" stroke="#333" stroke-width="0.8"/>
<text x="162.8" y="215.7" font-size="3.9" text-anchor="end" fill="#333">0</text>
<line x1="164.3" y1="199.8" x2="165.8" y2="199.8" stroke="#333" stroke-width="0.8"/>
<text x="162.8" y="201.2" font-size="3.9" text-anchor="end" fill="#333">20</text>
<line x1="164.3" y1="185.3" x2="165.8" y2="185.3" stroke="#333" stroke-width="0.8"/>
<text x="162.8" y="186.7" font-size="3.9" text-anchor="end" fill="#333">40</text>
<line x1="164.3" y1="170.8" x2="165.8" y2="170.8" stroke="#333" stroke-width="0.8"/>
<text x="162.8" y="172.2" font-size="3.9" text-anchor="end" fill="#333">60</text>
<line x1="164.3" y1="156.3" x2="165.8" y2="156.3" stroke="#333" stroke-width="0.8"/>
<text x="162.8" y="157.7" font-size="3.9" text-anchor="end" fill="#333">80</text>
<line x1="164.3" y1="141.8" x2="165.8" y2="141.8" stroke="#333" stroke-width="0.8"/>
<text x="162.8" y="143.2" font-size="3.9" text-anchor="end" fill="#333">100</text>
<line x1="165.8" y1="214.3" x2="165.8" y2="215.8" stroke="#333" stroke-width="0.8"/>
<text x="165.8" y="220.8" font-size="3.8" text-anchor="middle" fill="#555">10<tspan font-size="2.6" dy="-1.5">0</tspan></text>
<line x1="184.9" y1="214.3" x2="184.9" y2="215.8" stroke="#333" stroke-width="0.8"/>
<text x="184.9" y="220.8" font-size="3.8" text-anchor="middle" fill="#555">10<tspan font-size="2.6" dy="-1.5">1</tspan></text>
<line x1="203.9" y1="214.3" x2="203.9" y2="215.8" stroke="#333" stroke-width="0.8"/>
<text x="203.9" y="220.8" font-size="3.8" text-anchor="middle" fill="#555">10<tspan font-size="2.6" dy="-1.5">2</tspan></text>
<line x1="222.9" y1="214.3" x2="222.9" y2="215.8" stroke="#333" stroke-width="0.8"/>
<text x="222.9" y="220.8" font-size="3.8" text-anchor="middle" fill="#555">10<tspan font-size="2.6" dy="-1.5">3</tspan></text>
<line x1="242.0" y1="214.3" x2="242.0" y2="215.8" stroke="#333" stroke-width="0.8"/>
<text x="242.0" y="220.8" font-size="3.8" text-anchor="middle" fill="#555">10<tspan font-size="2.6" dy="-1.5">4</tspan></text>
<text x="203.9" y="225.8" font-size="3.8" text-anchor="middle" fill="#555">FL3-H: Class II-TriCP</text>
<text transform="translate(155.6,167.2) rotate(-90)" font-size="3.5" text-anchor="middle" fill="#444">% of Max</text>
<path d="M228.10 141.70H231.80" stroke="#111" stroke-width="1.05" fill="none"/>
<path d="M232.90 144.50L235.60 138.30" stroke="#111" stroke-width="0.9450000000000001" fill="none"/>
<path d="M237.00 141.70H240.60" stroke="#111" stroke-width="1.05" fill="none"/>
<clipPath id="c154"><rect x="301.6" y="44.2" width="76.0" height="76.2"/></clipPath>
<g clip-path="url(#c154)">
<polygon points="303.5,120.4 303.5,119.5 304.3,118.9 305.1,118.2 305.9,117.7 306.8,117.3 307.6,116.9 308.5,116.6 309.3,116.0 310.2,115.7 311.0,115.4 311.9,114.8 312.7,114.4 313.2,113.6 313.6,112.7 314.2,112.0 314.6,111.2 315.1,110.1 315.6,109.4 316.2,108.2 316.6,107.4 317.1,106.7 317.5,105.4 317.7,104.4 318.2,104.0 318.5,102.9 318.7,101.8 318.8,101.2 319.3,100.4 319.5,99.3 319.7,98.5 320.0,97.8 320.4,96.8 320.5,95.7 320.8,94.8 321.0,94.0 321.4,92.9 321.7,92.1 322.0,91.6 322.3,90.2 322.7,89.6 322.9,88.7 323.4,87.6 323.6,86.4 323.9,85.2 324.2,84.4 324.4,83.9 324.8,82.5 325.9,81.5 326.1,82.1 326.8,83.8 326.9,84.7 327.3,85.8 327.4,87.4 327.5,88.0 327.8,88.9 328.3,89.9 328.3,91.0 328.9,91.5 329.2,90.8 329.1,89.8 329.5,88.5 329.6,87.6 329.7,86.8 330.1,85.5 330.4,84.4 330.4,83.9 330.6,83.0 331.4,83.6 331.5,82.3 331.6,82.0 331.8,81.5 332.2,79.6 332.5,79.3 332.6,78.2 332.7,77.1 332.7,76.1 333.0,74.3 333.0,74.2 333.1,72.9 333.2,72.1 333.3,71.2 333.3,70.7 333.5,69.5 334.0,68.3 333.9,67.1 334.2,66.4 334.0,65.4 334.4,64.8 334.6,64.1 335.1,63.0 335.2,61.9 335.6,61.4 335.8,60.5 336.4,60.2 337.2,60.9 337.6,62.0 337.7,61.9 337.5,60.7 337.9,59.6 338.0,58.1 338.0,56.8 338.5,55.9 338.3,55.5 338.5,54.1 338.5,52.9 339.1,51.7 338.9,51.5 338.9,50.1 339.2,49.3 340.2,48.1 340.4,49.7 340.5,49.7 340.6,50.6 340.5,51.7 340.7,53.3 340.7,54.1 340.7,55.5 341.1,56.8 341.1,57.1 341.1,57.9 341.3,58.7 341.4,60.2 342.2,61.4 343.1,62.6 343.6,63.6 343.7,64.8 343.8,65.2 344.1,66.3 344.4,67.1 344.7,67.4 344.7,68.4 345.0,69.9 345.2,70.8 345.4,72.3 345.8,73.2 345.9,73.6 346.4,74.6 346.7,76.0 346.9,77.4 347.0,78.0 347.3,79.0 347.5,80.0 347.9,81.0 348.0,82.5 348.4,83.1 348.4,84.0 348.8,85.1 349.0,86.4 349.2,87.4 349.5,88.7 350.0,89.4 350.1,90.2 350.5,91.0 350.4,92.0 351.0,93.4 350.9,94.2 351.4,95.3 351.5,96.2 351.7,97.0 351.9,97.6 352.2,99.3 352.2,99.7 352.5,100.8 352.6,101.6 352.7,102.7 353.0,103.5 353.3,104.6 353.4,105.4 353.6,106.1 353.7,107.0 353.9,108.0 354.1,109.2 354.3,109.9 354.7,111.1 355.0,112.0 355.2,113.1 355.7,113.8 356.1,115.0 356.7,116.0 357.1,116.9 357.9,117.5 358.8,118.1 359.6,118.8 360.6,119.0 361.5,119.2 362.5,119.4 363.5,119.5 364.5,119.6 365.4,119.7 366.3,119.9 367.2,120.0 368.1,120.1 369.1,120.3 370.0,120.4 370.0,120.4" fill="#bcbcbc" stroke="none"/>
<polyline points="303.5,119.5 304.3,118.9 305.1,118.2 305.9,117.7 306.8,117.3 307.6,116.9 308.5,116.6 309.3,116.0 310.2,115.7 311.0,115.4 311.9,114.8 312.7,114.4 313.2,113.6 313.6,112.7 314.2,112.0 314.6,111.2 315.1,110.1 315.6,109.4 316.2,108.2 316.6,107.4 317.1,106.7 317.5,105.4 317.7,104.4 318.2,104.0 318.5,102.9 318.7,101.8 318.8,101.2 319.3,100.4 319.5,99.3 319.7,98.5 320.0,97.8 320.4,96.8 320.5,95.7 320.8,94.8 321.0,94.0 321.4,92.9 321.7,92.1 322.0,91.6 322.3,90.2 322.7,89.6 322.9,88.7 323.4,87.6 323.6,86.4 323.9,85.2 324.2,84.4 324.4,83.9 324.8,82.5 325.9,81.5 326.1,82.1 326.8,83.8 326.9,84.7 327.3,85.8 327.4,87.4 327.5,88.0 327.8,88.9 328.3,89.9 328.3,91.0 328.9,91.5 329.2,90.8 329.1,89.8 329.5,88.5 329.6,87.6 329.7,86.8 330.1,85.5 330.4,84.4 330.4,83.9 330.6,83.0 331.4,83.6 331.5,82.3 331.6,82.0 331.8,81.5 332.2,79.6 332.5,79.3 332.6,78.2 332.7,77.1 332.7,76.1 333.0,74.3 333.0,74.2 333.1,72.9 333.2,72.1 333.3,71.2 333.3,70.7 333.5,69.5 334.0,68.3 333.9,67.1 334.2,66.4 334.0,65.4 334.4,64.8 334.6,64.1 335.1,63.0 335.2,61.9 335.6,61.4 335.8,60.5 336.4,60.2 337.2,60.9 337.6,62.0 337.7,61.9 337.5,60.7 337.9,59.6 338.0,58.1 338.0,56.8 338.5,55.9 338.3,55.5 338.5,54.1 338.5,52.9 339.1,51.7 338.9,51.5 338.9,50.1 339.2,49.3 340.2,48.1 340.4,49.7 340.5,49.7 340.6,50.6 340.5,51.7 340.7,53.3 340.7,54.1 340.7,55.5 341.1,56.8 341.1,57.1 341.1,57.9 341.3,58.7 341.4,60.2 342.2,61.4 343.1,62.6 343.6,63.6 343.7,64.8 343.8,65.2 344.1,66.3 344.4,67.1 344.7,67.4 344.7,68.4 345.0,69.9 345.2,70.8 345.4,72.3 345.8,73.2 345.9,73.6 346.4,74.6 346.7,76.0 346.9,77.4 347.0,78.0 347.3,79.0 347.5,80.0 347.9,81.0 348.0,82.5 348.4,83.1 348.4,84.0 348.8,85.1 349.0,86.4 349.2,87.4 349.5,88.7 350.0,89.4 350.1,90.2 350.5,91.0 350.4,92.0 351.0,93.4 350.9,94.2 351.4,95.3 351.5,96.2 351.7,97.0 351.9,97.6 352.2,99.3 352.2,99.7 352.5,100.8 352.6,101.6 352.7,102.7 353.0,103.5 353.3,104.6 353.4,105.4 353.6,106.1 353.7,107.0 353.9,108.0 354.1,109.2 354.3,109.9 354.7,111.1 355.0,112.0 355.2,113.1 355.7,113.8 356.1,115.0 356.7,116.0 357.1,116.9 357.9,117.5 358.8,118.1 359.6,118.8 360.6,119.0 361.5,119.2 362.5,119.4 363.5,119.5 364.5,119.6 365.4,119.7 366.3,119.9 367.2,120.0 368.1,120.1 369.1,120.3 370.0,120.4" fill="none" stroke="#111" stroke-width="1.25" stroke-linejoin="round"/>
<polyline points="302.3,113.8 302.8,112.8 303.2,111.8 303.8,110.7 304.5,109.9 305.1,108.7 305.3,108.2 305.7,107.4 306.4,106.2 307.1,105.6 307.6,104.8 308.1,104.2 308.5,103.4 309.0,102.4 309.6,101.7 309.9,100.4 310.3,99.7 310.4,98.0 310.8,97.8 311.0,96.5 311.4,95.9 311.5,94.7 311.9,93.9 312.1,92.7 312.4,91.2 312.6,90.3 313.1,89.7 313.4,88.7 313.8,87.6 314.0,86.6 314.5,85.8 314.9,85.3 315.0,83.8 315.1,82.6 315.3,81.6 315.5,81.5 315.4,79.2 315.7,78.5 315.8,78.0 316.0,77.1 315.9,76.8 316.4,75.0 316.2,74.5 316.4,73.5 316.5,71.6 317.0,71.1 317.3,69.3 317.7,69.3 317.8,68.3 318.2,67.5 318.8,66.0 318.8,65.0 319.1,63.1 319.4,62.6 319.6,61.7 319.7,60.5 319.7,60.0 319.8,58.6 320.0,57.8 320.1,56.5 320.3,55.8 320.7,55.6 320.6,54.1 320.9,53.0 321.1,52.4 321.1,51.4 321.1,50.3 321.7,50.0 321.6,48.7 322.1,50.2 322.4,51.1 322.9,52.4 323.6,53.5 324.3,53.7 324.8,55.3 325.1,56.2 325.9,56.6 326.1,57.8 327.3,57.2 327.9,57.5 328.2,59.5 328.1,60.2 328.3,61.0 328.6,62.1 328.7,63.3 329.1,64.4 329.2,65.9 329.7,66.4 329.8,67.4 330.1,68.7 330.4,70.0 330.9,71.1 331.8,72.3 331.9,72.8 332.3,74.1 332.3,74.7 332.3,76.0 332.3,76.7 332.5,77.9 332.8,79.3 332.6,80.0 332.9,80.7 333.0,82.1 333.2,82.5 333.2,83.6 333.4,84.5 333.7,85.4 333.9,86.7 334.1,87.2 334.1,88.6 334.4,89.1 334.5,90.5 334.9,91.2 335.2,92.4 335.3,92.8 335.6,93.9 335.9,94.6 336.0,95.8 336.2,97.0 336.5,97.7 336.8,98.8 337.2,100.2 337.3,100.8 337.7,101.9 338.0,102.9 338.4,103.9 338.7,104.7 339.0,105.9 339.3,106.7 339.6,107.6 339.8,108.7 340.1,109.5 340.5,110.5 341.0,111.1 341.5,112.1 341.9,113.0 342.5,113.7 343.1,114.6 343.7,115.5 344.4,116.3 345.2,117.0 346.1,117.7 346.9,118.2 347.9,118.6 348.8,118.8 349.7,119.2 350.7,119.5 351.6,119.6 352.6,119.6 353.5,119.8 354.4,119.8 355.3,119.8 356.3,119.9 357.2,120.0 358.1,120.0 359.1,120.1 360.0,120.2" fill="none" stroke="#111" stroke-width="1.25" stroke-linejoin="round"/>
</g>
<line x1="301.6" y1="44.2" x2="377.6" y2="44.2" stroke="#c8c8c8" stroke-width="1"/>
<line x1="377.6" y1="44.2" x2="377.6" y2="120.4" stroke="#c8c8c8" stroke-width="1"/>
<line x1="301.6" y1="44.2" x2="301.6" y2="120.4" stroke="#111" stroke-width="1.4"/>
<line x1="301.6" y1="120.4" x2="377.6" y2="120.4" stroke="#111" stroke-width="1.4"/>
<line x1="300.1" y1="120.4" x2="301.6" y2="120.4" stroke="#333" stroke-width="0.8"/>
<text x="298.6" y="121.8" font-size="3.9" text-anchor="end" fill="#333">0</text>
<line x1="300.1" y1="106.0" x2="301.6" y2="106.0" stroke="#333" stroke-width="0.8"/>
<text x="298.6" y="107.4" font-size="3.9" text-anchor="end" fill="#333">20</text>
<line x1="300.1" y1="91.5" x2="301.6" y2="91.5" stroke="#333" stroke-width="0.8"/>
<text x="298.6" y="92.9" font-size="3.9" text-anchor="end" fill="#333">40</text>
<line x1="300.1" y1="77.1" x2="301.6" y2="77.1" stroke="#333" stroke-width="0.8"/>
<text x="298.6" y="78.5" font-size="3.9" text-anchor="end" fill="#333">60</text>
<line x1="300.1" y1="62.6" x2="301.6" y2="62.6" stroke="#333" stroke-width="0.8"/>
<text x="298.6" y="64.0" font-size="3.9" text-anchor="end" fill="#333">80</text>
<line x1="300.1" y1="48.2" x2="301.6" y2="48.2" stroke="#333" stroke-width="0.8"/>
<text x="298.6" y="49.6" font-size="3.9" text-anchor="end" fill="#333">100</text>
<line x1="301.6" y1="120.4" x2="301.6" y2="121.9" stroke="#333" stroke-width="0.8"/>
<text x="301.6" y="126.9" font-size="3.8" text-anchor="middle" fill="#555">10<tspan font-size="2.6" dy="-1.5">0</tspan></text>
<line x1="320.6" y1="120.4" x2="320.6" y2="121.9" stroke="#333" stroke-width="0.8"/>
<text x="320.6" y="126.9" font-size="3.8" text-anchor="middle" fill="#555">10<tspan font-size="2.6" dy="-1.5">1</tspan></text>
<line x1="339.6" y1="120.4" x2="339.6" y2="121.9" stroke="#333" stroke-width="0.8"/>
<text x="339.6" y="126.9" font-size="3.8" text-anchor="middle" fill="#555">10<tspan font-size="2.6" dy="-1.5">2</tspan></text>
<line x1="358.6" y1="120.4" x2="358.6" y2="121.9" stroke="#333" stroke-width="0.8"/>
<text x="358.6" y="126.9" font-size="3.8" text-anchor="middle" fill="#555">10<tspan font-size="2.6" dy="-1.5">3</tspan></text>
<line x1="377.6" y1="120.4" x2="377.6" y2="121.9" stroke="#333" stroke-width="0.8"/>
<text x="377.6" y="126.9" font-size="3.8" text-anchor="middle" fill="#555">10<tspan font-size="2.6" dy="-1.5">4</tspan></text>
<text x="339.6" y="131.9" font-size="3.8" text-anchor="middle" fill="#555">FL2-H: CD86-PE</text>
<text transform="translate(291.4,73.5) rotate(-90)" font-size="3.5" text-anchor="middle" fill="#444">% of Max</text>
<path d="M363.45 47.40H367.35M365.40 45.25V49.55" stroke="#111" stroke-width="1.3" fill="none"/>
<path d="M369.10 49.90L371.60 44.40" stroke="#111" stroke-width="1.1700000000000002" fill="none"/>
<path d="M373.35 47.40H377.25M375.30 45.25V49.55" stroke="#111" stroke-width="1.3" fill="none"/>
<clipPath id="c191"><rect x="302.4" y="137.4" width="75.80000000000001" height="76.0"/></clipPath>
<g clip-path="url(#c191)">
<polygon points="303.2,213.4 303.2,209.3 303.9,208.6 304.5,208.0 305.2,207.6 305.9,206.2 306.4,205.5 306.9,204.8 307.4,204.0 307.9,203.2 308.3,202.3 308.9,201.5 309.2,200.3 309.8,199.3 310.2,198.5 310.5,197.8 311.0,196.9 311.1,196.2 311.5,195.1 311.8,194.2 312.1,193.4 312.5,192.7 312.8,191.1 313.1,190.3 313.3,189.2 313.8,188.3 314.1,187.0 314.1,186.0 314.6,185.5 315.1,184.0 315.3,183.2 315.7,181.5 315.9,180.9 316.1,180.0 316.3,179.2 316.6,178.1 316.7,176.5 317.3,176.0 317.4,174.9 317.6,174.1 317.8,173.0 317.7,172.4 318.0,171.2 318.2,170.2 318.3,169.1 318.5,168.0 319.3,166.9 319.2,166.9 319.4,165.3 319.5,164.5 319.5,162.3 320.2,162.3 320.1,161.2 320.3,160.1 320.6,159.2 320.7,157.8 320.8,157.2 320.9,156.2 321.4,155.7 321.7,154.6 321.5,153.2 321.6,152.4 321.8,152.0 322.0,151.1 322.0,150.6 322.2,148.7 322.4,148.3 322.6,147.4 323.3,146.7 323.3,145.3 323.7,145.7 323.6,147.7 324.2,148.3 324.6,149.2 325.3,149.4 325.5,150.8 325.7,150.0 326.2,149.1 326.5,148.3 326.7,147.1 327.0,146.4 327.6,145.3 327.9,146.1 328.5,146.2 328.5,148.3 328.6,149.1 329.1,149.4 329.3,151.1 329.7,152.0 329.9,152.7 330.3,153.5 330.7,154.5 330.9,155.6 331.2,156.4 331.7,157.6 331.8,158.5 332.1,159.2 332.4,160.1 333.0,160.9 333.3,162.0 333.8,163.1 334.2,163.5 335.0,165.0 335.6,165.9 335.7,166.8 336.3,167.4 336.7,168.3 337.0,168.9 337.1,170.1 337.6,170.7 337.7,172.1 338.2,172.6 338.3,174.1 338.6,175.3 339.1,175.4 339.2,176.7 339.5,177.6 339.6,178.6 340.0,179.1 340.2,180.8 340.6,181.7 340.9,181.9 341.0,183.3 341.5,183.5 341.7,185.0 342.0,185.6 342.2,186.3 342.4,187.6 342.8,188.6 343.0,189.5 343.2,190.6 343.7,191.6 344.0,192.8 344.2,193.3 344.6,194.3 344.8,195.2 345.3,196.5 345.5,197.1 346.0,198.4 346.4,198.8 346.7,200.0 347.1,201.2 347.5,201.7 348.0,202.4 348.4,203.8 348.8,204.1 349.2,205.0 349.9,205.8 350.4,206.8 351.1,207.3 351.7,208.3 352.5,209.0 353.3,209.7 354.2,210.2 355.0,210.8 356.0,211.1 357.0,211.4 358.0,211.7 359.0,212.1 360.0,212.5 361.0,212.6 362.0,212.8 363.0,212.9 364.0,212.9 365.0,213.1 366.0,213.2 366.0,213.4" fill="#bcbcbc" stroke="none"/>
<polyline points="303.2,209.3 303.9,208.6 304.5,208.0 305.2,207.6 305.9,206.2 306.4,205.5 306.9,204.8 307.4,204.0 307.9,203.2 308.3,202.3 308.9,201.5 309.2,200.3 309.8,199.3 310.2,198.5 310.5,197.8 311.0,196.9 311.1,196.2 311.5,195.1 311.8,194.2 312.1,193.4 312.5,192.7 312.8,191.1 313.1,190.3 313.3,189.2 313.8,188.3 314.1,187.0 314.1,186.0 314.6,185.5 315.1,184.0 315.3,183.2 315.7,181.5 315.9,180.9 316.1,180.0 316.3,179.2 316.6,178.1 316.7,176.5 317.3,176.0 317.4,174.9 317.6,174.1 317.8,173.0 317.7,172.4 318.0,171.2 318.2,170.2 318.3,169.1 318.5,168.0 319.3,166.9 319.2,166.9 319.4,165.3 319.5,164.5 319.5,162.3 320.2,162.3 320.1,161.2 320.3,160.1 320.6,159.2 320.7,157.8 320.8,157.2 320.9,156.2 321.4,155.7 321.7,154.6 321.5,153.2 321.6,152.4 321.8,152.0 322.0,151.1 322.0,150.6 322.2,148.7 322.4,148.3 322.6,147.4 323.3,146.7 323.3,145.3 323.7,145.7 323.6,147.7 324.2,148.3 324.6,149.2 325.3,149.4 325.5,150.8 325.7,150.0 326.2,149.1 326.5,148.3 326.7,147.1 327.0,146.4 327.6,145.3 327.9,146.1 328.5,146.2 328.5,148.3 328.6,149.1 329.1,149.4 329.3,151.1 329.7,152.0 329.9,152.7 330.3,153.5 330.7,154.5 330.9,155.6 331.2,156.4 331.7,157.6 331.8,158.5 332.1,159.2 332.4,160.1 333.0,160.9 333.3,162.0 333.8,163.1 334.2,163.5 335.0,165.0 335.6,165.9 335.7,166.8 336.3,167.4 336.7,168.3 337.0,168.9 337.1,170.1 337.6,170.7 337.7,172.1 338.2,172.6 338.3,174.1 338.6,175.3 339.1,175.4 339.2,176.7 339.5,177.6 339.6,178.6 340.0,179.1 340.2,180.8 340.6,181.7 340.9,181.9 341.0,183.3 341.5,183.5 341.7,185.0 342.0,185.6 342.2,186.3 342.4,187.6 342.8,188.6 343.0,189.5 343.2,190.6 343.7,191.6 344.0,192.8 344.2,193.3 344.6,194.3 344.8,195.2 345.3,196.5 345.5,197.1 346.0,198.4 346.4,198.8 346.7,200.0 347.1,201.2 347.5,201.7 348.0,202.4 348.4,203.8 348.8,204.1 349.2,205.0 349.9,205.8 350.4,206.8 351.1,207.3 351.7,208.3 352.5,209.0 353.3,209.7 354.2,210.2 355.0,210.8 356.0,211.1 357.0,211.4 358.0,211.7 359.0,212.1 360.0,212.5 361.0,212.6 362.0,212.8 363.0,212.9 364.0,212.9 365.0,213.1 366.0,213.2" fill="none" stroke="#111" stroke-width="1.25" stroke-linejoin="round"/>
<polyline points="302.5,206.0 303.2,205.5 303.9,204.5 304.5,203.6 304.9,202.3 305.3,202.0 305.7,201.0 306.3,200.1 307.1,199.3 307.6,198.5 308.2,197.5 308.6,196.1 309.1,195.7 309.6,194.7 309.8,193.3 310.0,192.9 310.2,191.4 310.6,190.5 310.8,189.6 311.1,188.8 311.7,188.0 312.4,186.5 312.7,185.7 312.9,184.7 313.3,183.6 313.6,182.6 314.0,181.9 314.3,181.1 314.8,179.5 314.8,178.6 315.1,177.8 315.3,176.8 315.7,175.8 316.0,175.5 316.3,173.6 316.6,173.0 316.6,171.8 316.7,171.1 316.8,169.9 316.6,169.0 316.8,168.3 316.8,167.5 317.0,166.3 316.7,164.2 317.0,164.1 317.3,162.7 317.4,161.4 317.5,161.4 317.5,160.3 317.8,159.0 317.9,158.0 318.5,157.0 318.8,155.6 318.9,154.6 319.2,153.5 319.1,152.1 319.4,151.6 319.6,150.8 319.3,149.7 319.8,148.6 319.7,148.1 320.2,146.6 320.5,145.9 320.4,144.7 320.6,144.2 321.2,142.9 322.4,144.1 322.9,145.3 323.6,145.9 324.8,144.7 325.7,143.5 326.1,142.9 327.3,142.3 327.8,143.2 328.5,144.7 329.0,145.4 329.7,146.5 330.1,147.8 330.4,148.9 330.8,149.0 330.9,149.8 331.3,151.0 331.3,151.8 331.3,153.3 331.4,153.8 331.3,154.1 331.6,155.4 331.6,156.5 331.5,157.3 331.5,158.4 331.6,158.6 331.7,160.0 331.8,160.4 332.0,161.6 332.1,162.8 332.2,163.5 332.5,164.7 332.4,165.7 333.0,166.2 333.1,166.6 333.3,168.3 333.5,169.3 333.7,169.7 333.7,171.1 334.0,172.3 334.2,173.0 334.4,174.1 334.7,175.2 334.8,175.6 335.0,176.7 335.1,177.9 335.4,178.6 335.2,179.4 335.6,180.4 335.7,181.3 335.9,182.5 336.0,182.9 336.1,184.1 336.6,184.6 336.7,186.1 336.7,186.7 336.9,188.0 337.2,188.1 337.3,189.8 337.5,189.9 337.5,191.6 337.8,192.3 338.0,193.1 338.2,194.1 338.3,195.0 338.5,196.0 339.3,196.7 339.5,197.9 339.9,199.0 340.0,199.9 340.3,200.7 340.8,201.7 341.3,202.5 341.6,203.0 342.1,204.3 342.4,204.9 342.8,205.6 343.3,206.7 344.1,207.4 344.7,207.9 345.3,208.7 345.9,209.6 346.7,210.0 347.7,210.4 348.8,211.0 349.7,211.4 350.7,211.7 351.7,212.0 352.6,212.1 353.5,212.2 354.5,212.3 355.3,212.4 356.3,212.6 357.3,212.7 358.2,212.8 359.1,212.9 360.0,213.0" fill="none" stroke="#111" stroke-width="1.25" stroke-linejoin="round"/>
</g>
<line x1="302.4" y1="137.4" x2="378.2" y2="137.4" stroke="#c8c8c8" stroke-width="1"/>
<line x1="378.2" y1="137.4" x2="378.2" y2="213.4" stroke="#c8c8c8" stroke-width="1"/>
<line x1="302.4" y1="137.4" x2="302.4" y2="213.4" stroke="#111" stroke-width="1.4"/>
<line x1="302.4" y1="213.4" x2="378.2" y2="213.4" stroke="#111" stroke-width="1.4"/>
<line x1="300.9" y1="213.4" x2="302.4" y2="213.4" stroke="#333" stroke-width="0.8"/>
<text x="299.4" y="214.8" font-size="3.9" text-anchor="end" fill="#333">0</text>
<line x1="300.9" y1="199.0" x2="302.4" y2="199.0" stroke="#333" stroke-width="0.8"/>
<text x="299.4" y="200.4" font-size="3.9" text-anchor="end" fill="#333">20</text>
<line x1="300.9" y1="184.6" x2="302.4" y2="184.6" stroke="#333" stroke-width="0.8"/>
<text x="299.4" y="186.0" font-size="3.9" text-anchor="end" fill="#333">40</text>
<line x1="300.9" y1="170.2" x2="302.4" y2="170.2" stroke="#333" stroke-width="0.8"/>
<text x="299.4" y="171.6" font-size="3.9" text-anchor="end" fill="#333">60</text>
<line x1="300.9" y1="155.8" x2="302.4" y2="155.8" stroke="#333" stroke-width="0.8"/>
<text x="299.4" y="157.2" font-size="3.9" text-anchor="end" fill="#333">80</text>
<line x1="300.9" y1="141.4" x2="302.4" y2="141.4" stroke="#333" stroke-width="0.8"/>
<text x="299.4" y="142.8" font-size="3.9" text-anchor="end" fill="#333">100</text>
<line x1="302.4" y1="213.4" x2="302.4" y2="214.9" stroke="#333" stroke-width="0.8"/>
<text x="302.4" y="219.9" font-size="3.8" text-anchor="middle" fill="#555">10<tspan font-size="2.6" dy="-1.5">0</tspan></text>
<line x1="321.3" y1="213.4" x2="321.3" y2="214.9" stroke="#333" stroke-width="0.8"/>
<text x="321.3" y="219.9" font-size="3.8" text-anchor="middle" fill="#555">10<tspan font-size="2.6" dy="-1.5">1</tspan></text>
<line x1="340.3" y1="213.4" x2="340.3" y2="214.9" stroke="#333" stroke-width="0.8"/>
<text x="340.3" y="219.9" font-size="3.8" text-anchor="middle" fill="#555">10<tspan font-size="2.6" dy="-1.5">2</tspan></text>
<line x1="359.2" y1="213.4" x2="359.2" y2="214.9" stroke="#333" stroke-width="0.8"/>
<text x="359.2" y="219.9" font-size="3.8" text-anchor="middle" fill="#555">10<tspan font-size="2.6" dy="-1.5">3</tspan></text>
<line x1="378.2" y1="213.4" x2="378.2" y2="214.9" stroke="#333" stroke-width="0.8"/>
<text x="378.2" y="219.9" font-size="3.8" text-anchor="middle" fill="#555">10<tspan font-size="2.6" dy="-1.5">4</tspan></text>
<text x="340.3" y="224.9" font-size="3.8" text-anchor="middle" fill="#555">FL2-H: CD86-PE</text>
<text transform="translate(292.2,166.6) rotate(-90)" font-size="3.5" text-anchor="middle" fill="#444">% of Max</text>
<path d="M363.30 142.40H367.20" stroke="#111" stroke-width="1.3" fill="none"/>
<path d="M368.80 144.90L371.60 139.00" stroke="#111" stroke-width="1.1700000000000002" fill="none"/>
<path d="M373.10 142.40H376.90" stroke="#111" stroke-width="1.3" fill="none"/>
<clipPath id="c228"><rect x="421.9" y="43.8" width="76.80000000000001" height="76.5"/></clipPath>
<g clip-path="url(#c228)">
<polygon points="435.5,120.3 435.5,120.1 436.4,119.4 437.4,118.6 438.3,118.1 439.3,117.6 440.3,117.4 441.3,117.2 442.2,116.7 443.2,116.2 444.3,115.8 445.2,115.2 446.2,114.5 447.1,114.2 448.1,113.7 449.0,113.3 450.0,112.7 451.0,111.8 451.6,112.7 452.4,113.3 453.9,114.2 455.3,113.3 456.1,112.3 456.8,111.8 458.3,110.9 459.9,111.2 461.2,111.8 462.5,112.5 463.0,111.7 463.7,110.5 464.7,109.8 465.6,108.6 466.6,107.2 467.5,106.7 467.9,105.6 468.1,104.7 468.5,103.5 468.8,102.9 469.1,102.2 469.6,100.6 469.8,100.5 470.1,99.1 470.6,98.3 471.4,97.8 471.6,96.5 471.6,96.2 471.8,94.9 472.1,93.9 472.1,93.6 472.4,92.3 472.4,91.1 472.6,90.2 472.9,88.9 472.9,88.2 473.1,87.5 473.3,86.2 473.5,86.1 473.5,84.9 473.9,83.8 474.4,82.3 474.4,82.0 474.3,80.9 474.7,79.9 474.6,78.4 474.7,78.0 475.0,77.2 475.0,75.9 475.1,75.1 475.2,74.0 475.4,73.0 475.6,72.0 475.6,71.1 475.7,71.1 476.0,69.4 476.0,68.6 476.2,67.5 476.6,66.4 476.8,65.9 477.0,64.4 477.2,63.8 477.3,63.2 477.7,62.2 477.6,60.3 477.4,59.7 477.8,59.1 477.6,58.3 477.8,56.8 478.0,56.5 478.3,55.3 478.8,54.1 479.2,52.5 479.1,51.8 479.2,51.0 479.4,50.3 479.6,49.3 480.1,48.1 480.0,49.3 480.6,49.3 480.5,50.8 480.5,51.7 480.6,53.1 480.4,53.6 480.8,53.9 480.8,55.7 480.4,55.8 480.6,56.9 480.7,58.4 480.8,59.9 481.0,60.2 481.2,60.9 481.0,62.2 481.5,63.3 481.2,63.5 481.0,64.5 481.5,66.1 481.5,67.2 481.5,67.0 481.6,68.7 481.5,69.5 481.9,70.3 482.2,71.6 481.7,72.9 482.3,74.0 482.2,74.7 482.2,75.8 482.3,77.4 482.3,77.9 482.5,78.5 482.8,80.0 483.0,81.3 482.8,81.8 483.1,82.8 483.0,83.3 483.3,84.7 483.4,85.7 483.1,86.3 483.5,87.6 483.5,88.7 483.6,89.5 483.6,90.6 483.8,91.8 483.9,92.6 484.0,93.6 484.0,93.9 484.1,95.3 484.2,96.7 484.3,97.3 484.3,98.0 484.5,99.0 484.6,100.1 484.7,101.1 484.5,102.0 484.7,102.9 484.8,104.2 484.9,105.0 485.0,105.6 485.0,106.3 485.2,107.3 485.3,108.1 485.4,109.3 485.7,110.4 485.8,111.6 485.9,112.5 486.1,113.4 486.3,114.4 486.6,115.3 486.8,116.2 487.0,117.2 487.3,118.2 487.9,118.9 488.5,119.7 490.0,120.3 490.0,120.3" fill="#bcbcbc" stroke="none"/>
<polyline points="435.5,120.1 436.4,119.4 437.4,118.6 438.3,118.1 439.3,117.6 440.3,117.4 441.3,117.2 442.2,116.7 443.2,116.2 444.3,115.8 445.2,115.2 446.2,114.5 447.1,114.2 448.1,113.7 449.0,113.3 450.0,112.7 451.0,111.8 451.6,112.7 452.4,113.3 453.9,114.2 455.3,113.3 456.1,112.3 456.8,111.8 458.3,110.9 459.9,111.2 461.2,111.8 462.5,112.5 463.0,111.7 463.7,110.5 464.7,109.8 465.6,108.6 466.6,107.2 467.5,106.7 467.9,105.6 468.1,104.7 468.5,103.5 468.8,102.9 469.1,102.2 469.6,100.6 469.8,100.5 470.1,99.1 470.6,98.3 471.4,97.8 471.6,96.5 471.6,96.2 471.8,94.9 472.1,93.9 472.1,93.6 472.4,92.3 472.4,91.1 472.6,90.2 472.9,88.9 472.9,88.2 473.1,87.5 473.3,86.2 473.5,86.1 473.5,84.9 473.9,83.8 474.4,82.3 474.4,82.0 474.3,80.9 474.7,79.9 474.6,78.4 474.7,78.0 475.0,77.2 475.0,75.9 475.1,75.1 475.2,74.0 475.4,73.0 475.6,72.0 475.6,71.1 475.7,71.1 476.0,69.4 476.0,68.6 476.2,67.5 476.6,66.4 476.8,65.9 477.0,64.4 477.2,63.8 477.3,63.2 477.7,62.2 477.6,60.3 477.4,59.7 477.8,59.1 477.6,58.3 477.8,56.8 478.0,56.5 478.3,55.3 478.8,54.1 479.2,52.5 479.1,51.8 479.2,51.0 479.4,50.3 479.6,49.3 480.1,48.1 480.0,49.3 480.6,49.3 480.5,50.8 480.5,51.7 480.6,53.1 480.4,53.6 480.8,53.9 480.8,55.7 480.4,55.8 480.6,56.9 480.7,58.4 480.8,59.9 481.0,60.2 481.2,60.9 481.0,62.2 481.5,63.3 481.2,63.5 481.0,64.5 481.5,66.1 481.5,67.2 481.5,67.0 481.6,68.7 481.5,69.5 481.9,70.3 482.2,71.6 481.7,72.9 482.3,74.0 482.2,74.7 482.2,75.8 482.3,77.4 482.3,77.9 482.5,78.5 482.8,80.0 483.0,81.3 482.8,81.8 483.1,82.8 483.0,83.3 483.3,84.7 483.4,85.7 483.1,86.3 483.5,87.6 483.5,88.7 483.6,89.5 483.6,90.6 483.8,91.8 483.9,92.6 484.0,93.6 484.0,93.9 484.1,95.3 484.2,96.7 484.3,97.3 484.3,98.0 484.5,99.0 484.6,100.1 484.7,101.1 484.5,102.0 484.7,102.9 484.8,104.2 484.9,105.0 485.0,105.6 485.0,106.3 485.2,107.3 485.3,108.1 485.4,109.3 485.7,110.4 485.8,111.6 485.9,112.5 486.1,113.4 486.3,114.4 486.6,115.3 486.8,116.2 487.0,117.2 487.3,118.2 487.9,118.9 488.5,119.7 490.0,120.3" fill="none" stroke="#111" stroke-width="1.25" stroke-linejoin="round"/>
<polyline points="422.0,111.3 422.2,112.2 422.3,113.2 422.2,114.3 422.4,114.9 422.5,116.0 422.6,117.2 422.7,118.1 422.8,119.1 423.8,119.2 424.8,119.3 425.7,119.5 426.7,119.5 427.7,119.6 428.6,119.5 429.6,119.4 430.6,119.3 431.5,119.2 432.5,119.1 433.5,118.4 434.5,117.6 435.1,116.9 435.9,116.2 437.4,117.0 438.4,116.5 439.3,116.2 440.4,115.7 441.3,115.2 442.2,114.2 443.2,113.3 444.0,113.0 444.7,112.3 446.1,111.3 447.6,110.4 448.3,110.0 449.0,108.9 449.8,108.4 450.5,107.9 451.5,107.0 452.9,107.5 454.4,108.4 455.3,109.9 456.0,109.3 456.8,108.9 457.5,108.1 458.3,107.5 459.1,106.9 459.9,106.1 460.7,105.2 461.6,104.2 461.7,103.4 462.2,102.3 462.6,101.1 462.8,100.4 463.1,99.4 463.2,98.6 463.2,97.3 463.5,96.3 463.7,95.3 463.8,94.3 463.8,94.1 464.1,92.5 464.4,91.2 464.4,90.2 464.4,89.2 464.6,88.3 464.8,86.6 464.8,85.8 465.0,85.1 465.2,84.2 465.5,83.0 465.3,82.2 465.5,81.1 465.6,80.0 465.4,78.4 466.0,77.7 465.7,77.2 465.9,76.1 466.0,75.4 466.1,74.7 465.9,73.5 466.1,72.5 466.1,71.3 466.1,69.9 466.2,69.2 466.4,68.9 466.5,67.5 466.8,67.0 466.9,66.0 467.1,64.5 467.1,63.8 467.1,62.8 467.6,62.4 467.6,60.7 467.3,60.5 467.5,59.3 467.5,58.5 467.6,56.9 467.7,56.5 467.9,55.8 468.1,54.8 468.0,53.1 468.3,52.6 468.3,51.6 468.3,50.5 468.9,51.8 468.9,52.9 470.1,54.1 470.3,52.3 470.5,53.2 470.7,50.5 470.8,49.7 471.1,49.3 471.7,48.7 472.1,49.8 472.1,51.0 472.2,52.3 472.3,52.9 472.4,53.5 472.5,55.0 472.5,55.6 472.5,56.2 472.8,57.8 472.9,58.7 473.3,59.7 473.2,60.8 473.2,61.2 473.5,62.6 473.5,63.6 473.6,64.6 473.9,65.3 474.1,66.2 474.2,67.5 474.4,67.9 474.8,69.0 474.7,69.9 474.7,70.8 475.0,71.7 475.1,72.9 475.4,73.3 475.2,74.7 475.3,76.2 475.4,76.1 475.2,77.6 475.4,78.4 475.8,79.4 475.5,80.5 475.9,81.5 475.9,82.0 476.0,82.9 475.8,84.4 475.8,84.9 475.6,86.2 475.7,87.3 475.7,88.1 475.8,88.5 475.6,90.0 475.7,90.9 475.8,92.1 475.8,92.7 476.0,93.7 476.1,95.0 476.6,95.4 476.6,96.4 476.7,97.1 476.9,97.7 477.1,99.1 477.2,100.0 477.7,100.8 477.8,102.2 478.1,103.6 478.4,104.2 478.7,105.1 478.9,105.9 479.4,106.9 479.6,108.0 479.9,109.2 480.5,110.3 480.9,111.2 481.3,112.3 481.7,113.4 482.2,114.4 482.6,115.1 483.1,116.0 483.5,116.9 484.5,117.8 485.4,118.8 486.4,119.1 487.5,119.4 488.5,119.7 489.4,119.7 490.4,119.8 491.4,119.9 492.3,120.0 493.3,120.0 494.2,120.0 495.2,120.1 496.1,120.1 497.1,120.1 498.0,120.2" fill="none" stroke="#111" stroke-width="1.25" stroke-linejoin="round"/>
</g>
<line x1="421.9" y1="43.8" x2="498.7" y2="43.8" stroke="#c8c8c8" stroke-width="1"/>
<line x1="498.7" y1="43.8" x2="498.7" y2="120.3" stroke="#c8c8c8" stroke-width="1"/>
<line x1="421.9" y1="43.8" x2="421.9" y2="120.3" stroke="#111" stroke-width="1.4"/>
<line x1="421.9" y1="120.3" x2="498.7" y2="120.3" stroke="#111" stroke-width="1.4"/>
<line x1="420.4" y1="120.3" x2="421.9" y2="120.3" stroke="#333" stroke-width="0.8"/>
<text x="418.9" y="121.7" font-size="3.9" text-anchor="end" fill="#333">0</text>
<line x1="420.4" y1="105.8" x2="421.9" y2="105.8" stroke="#333" stroke-width="0.8"/>
<text x="418.9" y="107.2" font-size="3.9" text-anchor="end" fill="#333">20</text>
<line x1="420.4" y1="91.3" x2="421.9" y2="91.3" stroke="#333" stroke-width="0.8"/>
<text x="418.9" y="92.7" font-size="3.9" text-anchor="end" fill="#333">40</text>
<line x1="420.4" y1="76.8" x2="421.9" y2="76.8" stroke="#333" stroke-width="0.8"/>
<text x="418.9" y="78.2" font-size="3.9" text-anchor="end" fill="#333">60</text>
<line x1="420.4" y1="62.3" x2="421.9" y2="62.3" stroke="#333" stroke-width="0.8"/>
<text x="418.9" y="63.7" font-size="3.9" text-anchor="end" fill="#333">80</text>
<line x1="420.4" y1="47.8" x2="421.9" y2="47.8" stroke="#333" stroke-width="0.8"/>
<text x="418.9" y="49.2" font-size="3.9" text-anchor="end" fill="#333">100</text>
<line x1="421.9" y1="120.3" x2="421.9" y2="121.8" stroke="#333" stroke-width="0.8"/>
<text x="421.9" y="126.8" font-size="3.8" text-anchor="middle" fill="#555">10<tspan font-size="2.6" dy="-1.5">0</tspan></text>
<line x1="441.1" y1="120.3" x2="441.1" y2="121.8" stroke="#333" stroke-width="0.8"/>
<text x="441.1" y="126.8" font-size="3.8" text-anchor="middle" fill="#555">10<tspan font-size="2.6" dy="-1.5">1</tspan></text>
<line x1="460.3" y1="120.3" x2="460.3" y2="121.8" stroke="#333" stroke-width="0.8"/>
<text x="460.3" y="126.8" font-size="3.8" text-anchor="middle" fill="#555">10<tspan font-size="2.6" dy="-1.5">2</tspan></text>
<line x1="479.5" y1="120.3" x2="479.5" y2="121.8" stroke="#333" stroke-width="0.8"/>
<text x="479.5" y="126.8" font-size="3.8" text-anchor="middle" fill="#555">10<tspan font-size="2.6" dy="-1.5">3</tspan></text>
<line x1="498.7" y1="120.3" x2="498.7" y2="121.8" stroke="#333" stroke-width="0.8"/>
<text x="498.7" y="126.8" font-size="3.8" text-anchor="middle" fill="#555">10<tspan font-size="2.6" dy="-1.5">4</tspan></text>
<text x="460.3" y="131.8" font-size="3.8" text-anchor="middle" fill="#555">FL3-H: Class II-CPerCP</text>
<text transform="translate(411.7,73.2) rotate(-90)" font-size="3.5" text-anchor="middle" fill="#444">% of Max</text>
<path d="M484.55 47.00H488.45M486.50 44.85V49.15" stroke="#111" stroke-width="1.3" fill="none"/>
<path d="M490.20 49.50L492.70 44.00" stroke="#111" stroke-width="1.1700000000000002" fill="none"/>
<path d="M494.45 47.00H498.35M496.40 44.85V49.15" stroke="#111" stroke-width="1.3" fill="none"/>
<clipPath id="c265"><rect x="421.9" y="137.5" width="77.0" height="76.4"/></clipPath>
<g clip-path="url(#c265)">
<polygon points="454.0,213.9 454.0,213.8 454.6,212.8 455.0,211.9 455.6,211.2 456.0,210.3 456.5,209.5 456.9,208.7 457.5,207.9 458.0,207.3 458.5,206.3 459.2,205.7 459.8,205.2 460.4,204.2 461.1,203.7 461.5,202.7 462.1,202.0 462.5,201.3 463.0,200.4 463.3,199.3 463.6,198.5 463.8,197.6 464.2,196.2 464.3,195.2 464.5,194.3 464.7,193.3 464.7,192.3 464.9,191.5 465.0,190.8 465.2,189.7 465.4,188.7 465.4,187.8 465.5,187.0 465.7,185.6 465.9,184.9 465.9,183.9 465.9,182.6 466.1,181.7 466.3,180.8 466.4,179.9 466.5,179.1 466.4,177.6 466.7,176.9 466.8,176.5 467.1,175.5 467.1,173.6 467.0,173.0 468.0,174.0 468.7,174.3 469.4,175.0 469.5,173.8 469.8,173.0 469.8,171.9 469.7,171.0 470.0,170.0 470.0,168.9 470.2,167.7 470.1,166.6 470.3,166.0 470.2,164.5 470.5,163.9 470.6,162.9 470.8,161.8 471.0,160.5 471.1,160.3 471.2,159.2 471.5,157.8 471.8,156.8 472.0,155.9 472.0,155.1 472.2,153.8 472.0,153.6 472.2,152.5 472.0,151.3 472.0,151.1 472.4,149.5 472.5,148.7 472.6,148.1 472.9,146.6 472.8,145.9 473.0,144.7 473.6,144.1 474.2,143.5 474.8,142.3 475.0,143.6 475.0,144.6 475.2,145.2 475.4,145.8 475.5,147.1 475.8,148.3 475.8,149.0 475.8,150.6 475.9,151.2 475.8,151.9 476.1,153.2 476.5,154.8 476.9,155.6 477.9,156.8 478.2,158.0 478.8,159.2 479.2,160.2 479.0,160.7 479.6,162.5 479.4,163.7 479.7,164.1 479.7,165.3 479.9,166.2 480.2,167.0 480.1,168.1 480.3,168.9 480.4,169.9 480.4,170.8 480.7,172.1 480.3,172.3 480.7,173.6 480.6,175.0 480.6,176.7 480.7,176.9 480.5,177.0 480.5,177.8 480.4,179.5 480.3,180.7 480.4,181.9 480.6,182.6 480.3,183.4 480.4,184.2 480.5,185.0 480.4,186.4 480.6,187.3 480.5,188.4 480.7,188.9 480.5,189.5 480.7,190.9 480.8,192.1 480.7,192.6 480.9,193.6 480.9,194.2 481.0,195.4 481.2,196.3 481.2,197.0 481.5,197.8 481.5,199.1 481.5,199.9 481.8,201.3 482.0,202.4 482.2,203.6 482.3,204.3 482.6,205.2 483.0,206.1 483.2,207.3 483.6,207.8 483.9,208.9 484.3,209.8 484.9,210.4 485.4,211.3 485.9,212.1 486.4,212.9 487.0,213.8 487.0,213.9" fill="#bcbcbc" stroke="none"/>
<polyline points="454.0,213.8 454.6,212.8 455.0,211.9 455.6,211.2 456.0,210.3 456.5,209.5 456.9,208.7 457.5,207.9 458.0,207.3 458.5,206.3 459.2,205.7 459.8,205.2 460.4,204.2 461.1,203.7 461.5,202.7 462.1,202.0 462.5,201.3 463.0,200.4 463.3,199.3 463.6,198.5 463.8,197.6 464.2,196.2 464.3,195.2 464.5,194.3 464.7,193.3 464.7,192.3 464.9,191.5 465.0,190.8 465.2,189.7 465.4,188.7 465.4,187.8 465.5,187.0 465.7,185.6 465.9,184.9 465.9,183.9 465.9,182.6 466.1,181.7 466.3,180.8 466.4,179.9 466.5,179.1 466.4,177.6 466.7,176.9 466.8,176.5 467.1,175.5 467.1,173.6 467.0,173.0 468.0,174.0 468.7,174.3 469.4,175.0 469.5,173.8 469.8,173.0 469.8,171.9 469.7,171.0 470.0,170.0 470.0,168.9 470.2,167.7 470.1,166.6 470.3,166.0 470.2,164.5 470.5,163.9 470.6,162.9 470.8,161.8 471.0,160.5 471.1,160.3 471.2,159.2 471.5,157.8 471.8,156.8 472.0,155.9 472.0,155.1 472.2,153.8 472.0,153.6 472.2,152.5 472.0,151.3 472.0,151.1 472.4,149.5 472.5,148.7 472.6,148.1 472.9,146.6 472.8,145.9 473.0,144.7 473.6,144.1 474.2,143.5 474.8,142.3 475.0,143.6 475.0,144.6 475.2,145.2 475.4,145.8 475.5,147.1 475.8,148.3 475.8,149.0 475.8,150.6 475.9,151.2 475.8,151.9 476.1,153.2 476.5,154.8 476.9,155.6 477.9,156.8 478.2,158.0 478.8,159.2 479.2,160.2 479.0,160.7 479.6,162.5 479.4,163.7 479.7,164.1 479.7,165.3 479.9,166.2 480.2,167.0 480.1,168.1 480.3,168.9 480.4,169.9 480.4,170.8 480.7,172.1 480.3,172.3 480.7,173.6 480.6,175.0 480.6,176.7 480.7,176.9 480.5,177.0 480.5,177.8 480.4,179.5 480.3,180.7 480.4,181.9 480.6,182.6 480.3,183.4 480.4,184.2 480.5,185.0 480.4,186.4 480.6,187.3 480.5,188.4 480.7,188.9 480.5,189.5 480.7,190.9 480.8,192.1 480.7,192.6 480.9,193.6 480.9,194.2 481.0,195.4 481.2,196.3 481.2,197.0 481.5,197.8 481.5,199.1 481.5,199.9 481.8,201.3 482.0,202.4 482.2,203.6 482.3,204.3 482.6,205.2 483.0,206.1 483.2,207.3 483.6,207.8 483.9,208.9 484.3,209.8 484.9,210.4 485.4,211.3 485.9,212.1 486.4,212.9 487.0,213.8" fill="none" stroke="#111" stroke-width="1.25" stroke-linejoin="round"/>
<polyline points="456.0,213.5 456.4,212.5 456.8,211.7 457.1,210.6 457.5,209.8 457.8,208.9 458.1,207.7 458.5,207.0 459.1,206.5 459.8,205.8 460.4,204.7 461.1,204.0 461.6,203.3 462.1,202.7 462.4,201.6 463.0,200.8 463.3,199.9 463.6,199.2 463.7,198.4 464.0,197.5 464.4,196.2 464.5,195.6 464.6,194.7 464.8,193.7 465.1,192.9 465.2,190.9 465.2,191.0 465.5,189.2 465.6,188.7 465.8,187.8 465.8,186.4 466.1,185.8 466.1,185.4 466.0,183.6 466.3,183.1 466.4,181.8 466.6,180.8 466.6,180.1 466.9,178.9 467.3,178.0 467.3,176.9 467.2,176.2 467.6,175.0 467.7,173.9 467.7,173.4 468.0,172.4 467.9,170.7 468.2,170.2 468.3,168.7 468.5,168.2 468.4,167.4 468.7,166.5 468.8,165.3 468.8,164.1 469.0,162.7 468.9,161.8 469.2,161.0 469.2,160.2 469.4,159.2 469.5,157.9 469.4,157.0 470.0,156.4 469.7,155.2 470.0,154.4 470.4,153.9 470.2,152.2 470.8,151.4 470.6,150.4 470.2,149.5 470.6,148.3 470.5,146.9 470.9,146.6 470.9,146.2 471.1,144.6 471.2,143.5 471.9,142.7 471.8,141.7 473.0,142.3 474.2,141.7 475.2,142.3 475.6,143.4 475.3,144.8 475.4,145.5 475.6,146.2 475.7,147.1 475.8,148.1 476.1,149.7 476.6,150.3 476.7,151.3 476.7,152.0 477.1,153.5 476.9,154.5 477.4,155.5 477.6,155.6 478.0,156.1 478.5,158.0 478.6,158.4 478.6,159.3 479.0,160.9 479.1,161.7 479.2,162.4 479.4,163.6 479.4,164.6 479.4,165.9 479.7,166.5 479.8,167.3 479.9,168.3 480.1,169.3 480.2,170.8 480.3,171.4 480.5,172.2 480.3,173.1 480.7,174.2 480.9,175.0 481.0,175.8 480.9,176.9 480.8,177.1 481.1,178.7 481.1,179.8 481.0,180.5 481.2,181.2 481.3,182.1 481.3,183.4 481.2,183.9 481.3,185.2 481.5,186.6 481.7,187.1 481.6,187.8 482.0,188.4 482.2,190.1 482.2,190.4 482.3,191.7 482.3,192.6 482.5,193.4 482.6,194.7 482.7,195.7 482.8,196.6 482.8,197.6 483.1,198.2 483.3,199.1 483.6,200.1 483.7,201.3 483.8,202.5 484.2,203.1 484.3,204.3 484.4,205.3 484.7,206.3 485.1,207.4 485.3,208.2 485.8,209.2 486.1,210.3 486.5,211.5 487.1,212.5 487.8,213.4 488.7,213.4 489.6,213.4 490.5,213.5 491.4,213.6 492.3,213.7 493.2,213.7 494.1,213.8 495.0,213.8" fill="none" stroke="#111" stroke-width="1.25" stroke-linejoin="round"/>
</g>
<line x1="421.9" y1="137.5" x2="498.9" y2="137.5" stroke="#c8c8c8" stroke-width="1"/>
<line x1="498.9" y1="137.5" x2="498.9" y2="213.9" stroke="#c8c8c8" stroke-width="1"/>
<line x1="421.9" y1="137.5" x2="421.9" y2="213.9" stroke="#111" stroke-width="1.4"/>
<line x1="421.9" y1="213.9" x2="498.9" y2="213.9" stroke="#111" stroke-width="1.4"/>
<line x1="420.4" y1="213.9" x2="421.9" y2="213.9" stroke="#333" stroke-width="0.8"/>
<text x="418.9" y="215.3" font-size="3.9" text-anchor="end" fill="#333">0</text>
<line x1="420.4" y1="199.4" x2="421.9" y2="199.4" stroke="#333" stroke-width="0.8"/>
<text x="418.9" y="200.8" font-size="3.9" text-anchor="end" fill="#333">20</text>
<line x1="420.4" y1="184.9" x2="421.9" y2="184.9" stroke="#333" stroke-width="0.8"/>
<text x="418.9" y="186.3" font-size="3.9" text-anchor="end" fill="#333">40</text>
<line x1="420.4" y1="170.5" x2="421.9" y2="170.5" stroke="#333" stroke-width="0.8"/>
<text x="418.9" y="171.9" font-size="3.9" text-anchor="end" fill="#333">60</text>
<line x1="420.4" y1="156.0" x2="421.9" y2="156.0" stroke="#333" stroke-width="0.8"/>
<text x="418.9" y="157.4" font-size="3.9" text-anchor="end" fill="#333">80</text>
<line x1="420.4" y1="141.5" x2="421.9" y2="141.5" stroke="#333" stroke-width="0.8"/>
<text x="418.9" y="142.9" font-size="3.9" text-anchor="end" fill="#333">100</text>
<line x1="421.9" y1="213.9" x2="421.9" y2="215.4" stroke="#333" stroke-width="0.8"/>
<text x="421.9" y="220.4" font-size="3.8" text-anchor="middle" fill="#555">10<tspan font-size="2.6" dy="-1.5">0</tspan></text>
<line x1="441.1" y1="213.9" x2="441.1" y2="215.4" stroke="#333" stroke-width="0.8"/>
<text x="441.1" y="220.4" font-size="3.8" text-anchor="middle" fill="#555">10<tspan font-size="2.6" dy="-1.5">1</tspan></text>
<line x1="460.4" y1="213.9" x2="460.4" y2="215.4" stroke="#333" stroke-width="0.8"/>
<text x="460.4" y="220.4" font-size="3.8" text-anchor="middle" fill="#555">10<tspan font-size="2.6" dy="-1.5">2</tspan></text>
<line x1="479.6" y1="213.9" x2="479.6" y2="215.4" stroke="#333" stroke-width="0.8"/>
<text x="479.6" y="220.4" font-size="3.8" text-anchor="middle" fill="#555">10<tspan font-size="2.6" dy="-1.5">3</tspan></text>
<line x1="498.9" y1="213.9" x2="498.9" y2="215.4" stroke="#333" stroke-width="0.8"/>
<text x="498.9" y="220.4" font-size="3.8" text-anchor="middle" fill="#555">10<tspan font-size="2.6" dy="-1.5">4</tspan></text>
<text x="460.4" y="225.4" font-size="3.8" text-anchor="middle" fill="#555">FL3-H: Class II-CPerCP</text>
<text transform="translate(411.7,166.9) rotate(-90)" font-size="3.5" text-anchor="middle" fill="#444">% of Max</text>
<path d="M484.00 141.30H487.90" stroke="#111" stroke-width="1.3" fill="none"/>
<path d="M489.50 143.80L492.30 137.90" stroke="#111" stroke-width="1.1700000000000002" fill="none"/>
<path d="M493.80 141.30H497.60" stroke="#111" stroke-width="1.3" fill="none"/>
<line x1="46.4" y1="241.6" x2="46.4" y2="302.4" stroke="#111" stroke-width="1.2"/>
<line x1="45.8" y1="302.4" x2="122.5" y2="302.4" stroke="#111" stroke-width="1.2"/>
<line x1="44.0" y1="302.4" x2="46.4" y2="302.4" stroke="#111" stroke-width="1"/>
<text class="b" style="stroke-width:0.15px" x="43.9" y="304.6" font-size="6.3" text-anchor="end" fill="#1a1a1a">0</text>
<line x1="44.0" y1="282.3" x2="46.4" y2="282.3" stroke="#111" stroke-width="1"/>
<text class="b" style="stroke-width:0.15px" x="43.9" y="284.6" font-size="6.3" text-anchor="end" fill="#1a1a1a">500</text>
<line x1="44.0" y1="262.3" x2="46.4" y2="262.3" stroke="#111" stroke-width="1"/>
<text class="b" style="stroke-width:0.15px" x="43.9" y="264.6" font-size="6.3" text-anchor="end" fill="#1a1a1a">1000</text>
<line x1="44.0" y1="242.2" x2="46.4" y2="242.2" stroke="#111" stroke-width="1"/>
<text class="b" style="stroke-width:0.15px" x="43.9" y="244.4" font-size="6.3" text-anchor="end" fill="#1a1a1a">1500</text>
<rect x="53.7" y="298.6" width="11.8" height="3.8" fill="#fff" stroke="#111" stroke-width="1.4"/>
<line x1="72.3" y1="251.0" x2="72.3" y2="252.4" stroke="#111" stroke-width="1.1"/>
<line x1="69.5" y1="251.0" x2="75.1" y2="251.0" stroke="#111" stroke-width="1.1"/>
<rect x="66.9" y="252.4" width="10.9" height="50.0" fill="#6e6e6e" stroke="#111" stroke-width="1.4"/>
<rect x="91.7" y="298.6" width="12.0" height="3.8" fill="#fff" stroke="#111" stroke-width="1.4"/>
<line x1="110.5" y1="274.6" x2="110.5" y2="277.8" stroke="#111" stroke-width="1.1"/>
<line x1="107.7" y1="274.6" x2="113.3" y2="274.6" stroke="#111" stroke-width="1.1"/>
<rect x="105.1" y="277.8" width="10.8" height="24.6" fill="#6e6e6e" stroke="#111" stroke-width="1.4"/>
<line x1="74.0" y1="241.8" x2="113.8" y2="241.8" stroke="#1a1a1a" stroke-width="1.3"/>
<circle cx="90.0" cy="237.1" r="1.55" fill="#222"/>
<circle cx="94.6" cy="237.1" r="1.55" fill="#222"/>
<circle cx="99.2" cy="237.1" r="1.55" fill="#222"/>
<text class="b" transform="translate(24.65,270.0) rotate(-90)" font-size="9.9" text-anchor="middle" fill="#111" dy="3.54">MFI</text>
<text class="b" x="25.5" y="313.3" font-size="9.3" fill="#111" textLength="17.2" lengthAdjust="spacingAndGlyphs">LPS</text>
<path d="M58.30 310.80H60.10" stroke="#111" stroke-width="1.1" fill="none"/>
<path d="M70.50 311.30H74.90M72.70 309.00V313.60" stroke="#111" stroke-width="1.05" fill="none"/>
<path d="M96.30 310.80H98.10" stroke="#111" stroke-width="1.1" fill="none"/>
<path d="M108.90 311.30H113.30M111.10 309.00V313.60" stroke="#111" stroke-width="1.05" fill="none"/>
<line x1="49.5" y1="315.4" x2="80.8" y2="315.4" stroke="#111" stroke-width="1.2"/>
<line x1="89.9" y1="315.4" x2="120.9" y2="315.4" stroke="#111" stroke-width="1.2"/>
<path d="M60.60 319.50H65.60M63.10 316.70V322.30" stroke="#111" stroke-width="1.3" fill="none"/>
<path d="M66.00 322.40L68.60 316.60" stroke="#111" stroke-width="1.2" fill="none"/>
<path d="M69.90 319.50H74.90M72.40 316.70V322.30" stroke="#111" stroke-width="1.3" fill="none"/>
<path d="M96.55 319.70H101.15" stroke="#111" stroke-width="1.25" fill="none"/>
<path d="M102.90 322.40L105.50 316.60" stroke="#111" stroke-width="1.2" fill="none"/>
<path d="M107.30 319.70H111.90" stroke="#111" stroke-width="1.25" fill="none"/>
<line x1="171.8" y1="241.9" x2="171.8" y2="302.7" stroke="#111" stroke-width="1.2"/>
<line x1="171.20000000000002" y1="302.7" x2="243.1" y2="302.7" stroke="#111" stroke-width="1.2"/>
<line x1="169.4" y1="302.7" x2="171.8" y2="302.7" stroke="#111" stroke-width="1"/>
<text class="b" style="stroke-width:0.15px" x="169.3" y="304.9" font-size="6.3" text-anchor="end" fill="#1a1a1a">0</text>
<line x1="169.4" y1="282.7" x2="171.8" y2="282.7" stroke="#111" stroke-width="1"/>
<text class="b" style="stroke-width:0.15px" x="169.3" y="284.9" font-size="6.3" text-anchor="end" fill="#1a1a1a">200</text>
<line x1="169.4" y1="262.8" x2="171.8" y2="262.8" stroke="#111" stroke-width="1"/>
<text class="b" style="stroke-width:0.15px" x="169.3" y="265.1" font-size="6.3" text-anchor="end" fill="#1a1a1a">400</text>
<line x1="169.4" y1="242.5" x2="171.8" y2="242.5" stroke="#111" stroke-width="1"/>
<text class="b" style="stroke-width:0.15px" x="169.3" y="244.8" font-size="6.3" text-anchor="end" fill="#1a1a1a">600</text>
<line x1="183.5" y1="294.9" x2="183.5" y2="296.1" stroke="#111" stroke-width="1.1"/>
<line x1="180.7" y1="294.9" x2="186.3" y2="294.9" stroke="#111" stroke-width="1.1"/>
<rect x="178.0" y="296.1" width="11.0" height="6.6" fill="#fff" stroke="#111" stroke-width="1.4"/>
<line x1="195.8" y1="250.0" x2="195.8" y2="258.3" stroke="#111" stroke-width="1.1"/>
<line x1="193.0" y1="250.0" x2="198.6" y2="250.0" stroke="#111" stroke-width="1.1"/>
<rect x="190.4" y="258.3" width="10.8" height="44.4" fill="#6e6e6e" stroke="#111" stroke-width="1.4"/>
<line x1="219.2" y1="295.3" x2="219.2" y2="296.5" stroke="#111" stroke-width="1.1"/>
<line x1="216.4" y1="295.3" x2="222.0" y2="295.3" stroke="#111" stroke-width="1.1"/>
<rect x="214.0" y="296.5" width="10.4" height="6.2" fill="#fff" stroke="#111" stroke-width="1.4"/>
<rect x="225.8" y="284.9" width="11.4" height="17.8" fill="#6e6e6e" stroke="#111" stroke-width="1.4"/>
<line x1="193.6" y1="242.3" x2="234.5" y2="242.3" stroke="#1a1a1a" stroke-width="1.3"/>
<circle cx="215.0" cy="237.7" r="1.55" fill="#222"/>
<text class="b" transform="translate(150.0,270.4) rotate(-90)" font-size="10.5" text-anchor="middle" fill="#111" dy="3.76">MFI</text>
<text class="b" x="149.1" y="313.5" font-size="9.3" fill="#111" textLength="18.5" lengthAdjust="spacingAndGlyphs">LPS</text>
<path d="M182.90 311.10H184.70" stroke="#111" stroke-width="1.1" fill="none"/>
<path d="M193.20 311.50H197.60M195.40 309.20V313.80" stroke="#111" stroke-width="1.05" fill="none"/>
<path d="M218.60 311.10H220.40" stroke="#111" stroke-width="1.1" fill="none"/>
<path d="M230.90 311.50H235.30M233.10 309.20V313.80" stroke="#111" stroke-width="1.05" fill="none"/>
<line x1="173.8" y1="315.8" x2="205.4" y2="315.8" stroke="#111" stroke-width="1.2"/>
<line x1="212.3" y1="315.8" x2="243.1" y2="315.8" stroke="#111" stroke-width="1.2"/>
<path d="M182.10 319.70H187.10M184.60 316.90V322.50" stroke="#111" stroke-width="1.3" fill="none"/>
<path d="M187.90 322.60L190.50 316.80" stroke="#111" stroke-width="1.2" fill="none"/>
<path d="M192.10 319.70H197.10M194.60 316.90V322.50" stroke="#111" stroke-width="1.3" fill="none"/>
<path d="M219.20 319.90H223.80" stroke="#111" stroke-width="1.25" fill="none"/>
<path d="M225.60 322.60L228.20 316.80" stroke="#111" stroke-width="1.2" fill="none"/>
<path d="M230.00 319.90H234.60" stroke="#111" stroke-width="1.25" fill="none"/>
<line x1="305.0" y1="238.5" x2="305.0" y2="302.7" stroke="#111" stroke-width="1.2"/>
<line x1="304.4" y1="302.7" x2="374.6" y2="302.7" stroke="#111" stroke-width="1.2"/>
<line x1="302.6" y1="302.7" x2="305.0" y2="302.7" stroke="#111" stroke-width="1"/>
<text class="b" style="stroke-width:0.15px" x="302.5" y="304.9" font-size="6.3" text-anchor="end" fill="#1a1a1a">0</text>
<line x1="302.6" y1="287.1" x2="305.0" y2="287.1" stroke="#111" stroke-width="1"/>
<text class="b" style="stroke-width:0.15px" x="302.5" y="289.4" font-size="6.3" text-anchor="end" fill="#1a1a1a">20</text>
<line x1="302.6" y1="271.2" x2="305.0" y2="271.2" stroke="#111" stroke-width="1"/>
<text class="b" style="stroke-width:0.15px" x="302.5" y="273.4" font-size="6.3" text-anchor="end" fill="#1a1a1a">40</text>
<line x1="302.6" y1="255.1" x2="305.0" y2="255.1" stroke="#111" stroke-width="1"/>
<text class="b" style="stroke-width:0.15px" x="302.5" y="257.4" font-size="6.3" text-anchor="end" fill="#1a1a1a">60</text>
<line x1="302.6" y1="239.1" x2="305.0" y2="239.1" stroke="#111" stroke-width="1"/>
<text class="b" style="stroke-width:0.15px" x="302.5" y="241.3" font-size="6.3" text-anchor="end" fill="#1a1a1a">80</text>
<line x1="316.8" y1="285.0" x2="316.8" y2="286.3" stroke="#111" stroke-width="1.1"/>
<line x1="314.0" y1="285.0" x2="319.6" y2="285.0" stroke="#111" stroke-width="1.1"/>
<rect x="311.8" y="286.3" width="10.0" height="16.4" fill="#fff" stroke="#111" stroke-width="1.4"/>
<line x1="328.6" y1="245.5" x2="328.6" y2="252.0" stroke="#111" stroke-width="1.1"/>
<line x1="325.8" y1="245.5" x2="331.4" y2="245.5" stroke="#111" stroke-width="1.1"/>
<rect x="323.2" y="252.0" width="10.7" height="50.7" fill="#6e6e6e" stroke="#111" stroke-width="1.4"/>
<line x1="351.4" y1="283.4" x2="351.4" y2="284.3" stroke="#111" stroke-width="1.1"/>
<line x1="348.6" y1="283.4" x2="354.2" y2="283.4" stroke="#111" stroke-width="1.1"/>
<rect x="346.7" y="284.3" width="9.4" height="18.4" fill="#fff" stroke="#111" stroke-width="1.4"/>
<line x1="362.6" y1="285.6" x2="362.6" y2="287.8" stroke="#111" stroke-width="1.1"/>
<line x1="359.8" y1="285.6" x2="365.4" y2="285.6" stroke="#111" stroke-width="1.1"/>
<rect x="357.5" y="287.8" width="10.1" height="14.9" fill="#6e6e6e" stroke="#111" stroke-width="1.4"/>
<line x1="327.9" y1="239.7" x2="367.8" y2="239.7" stroke="#1a1a1a" stroke-width="1.3"/>
<circle cx="348.6" cy="234.9" r="1.55" fill="#222"/>
<text class="b" transform="translate(287.9,269.8) rotate(-90)" font-size="10.2" text-anchor="middle" fill="#111" dy="3.65">MFI</text>
<text class="b" x="286.1" y="313.9" font-size="9.3" fill="#111" textLength="17.5" lengthAdjust="spacingAndGlyphs">LPS</text>
<path d="M316.80 310.80H318.60" stroke="#111" stroke-width="1.1" fill="none"/>
<path d="M326.70 311.50H331.10M328.90 309.20V313.80" stroke="#111" stroke-width="1.05" fill="none"/>
<path d="M352.20 310.80H354.00" stroke="#111" stroke-width="1.1" fill="none"/>
<path d="M362.40 311.50H366.80M364.60 309.20V313.80" stroke="#111" stroke-width="1.05" fill="none"/>
<line x1="307.7" y1="316.9" x2="338.5" y2="316.9" stroke="#111" stroke-width="1.2"/>
<line x1="344.6" y1="316.9" x2="375.4" y2="316.9" stroke="#111" stroke-width="1.2"/>
<path d="M316.70 320.70H321.70M319.20 317.90V323.50" stroke="#111" stroke-width="1.3" fill="none"/>
<path d="M322.50 323.60L325.10 317.80" stroke="#111" stroke-width="1.2" fill="none"/>
<path d="M327.00 320.70H332.00M329.50 317.90V323.50" stroke="#111" stroke-width="1.3" fill="none"/>
<path d="M348.70 320.90H353.30" stroke="#111" stroke-width="1.25" fill="none"/>
<path d="M355.30 323.60L357.90 317.80" stroke="#111" stroke-width="1.2" fill="none"/>
<path d="M359.50 320.90H364.10" stroke="#111" stroke-width="1.25" fill="none"/>
<line x1="429.5" y1="237.4" x2="429.5" y2="302.6" stroke="#111" stroke-width="1.2"/>
<line x1="428.9" y1="302.6" x2="501.4" y2="302.6" stroke="#111" stroke-width="1.2"/>
<line x1="427.1" y1="302.6" x2="429.5" y2="302.6" stroke="#111" stroke-width="1"/>
<text class="b" style="stroke-width:0.15px" x="427.0" y="304.9" font-size="6.3" text-anchor="end" fill="#1a1a1a">0</text>
<line x1="427.1" y1="286.8" x2="429.5" y2="286.8" stroke="#111" stroke-width="1"/>
<text class="b" style="stroke-width:0.15px" x="427.0" y="289.1" font-size="6.3" text-anchor="end" fill="#1a1a1a">50</text>
<line x1="427.1" y1="270.5" x2="429.5" y2="270.5" stroke="#111" stroke-width="1"/>
<text class="b" style="stroke-width:0.15px" x="427.0" y="272.8" font-size="6.3" text-anchor="end" fill="#1a1a1a">100</text>
<line x1="427.1" y1="254.2" x2="429.5" y2="254.2" stroke="#111" stroke-width="1"/>
<text class="b" style="stroke-width:0.15px" x="427.0" y="256.4" font-size="6.3" text-anchor="end" fill="#1a1a1a">150</text>
<line x1="427.1" y1="238.0" x2="429.5" y2="238.0" stroke="#111" stroke-width="1"/>
<text class="b" style="stroke-width:0.15px" x="427.0" y="240.2" font-size="6.3" text-anchor="end" fill="#1a1a1a">200</text>
<line x1="441.8" y1="281.3" x2="441.8" y2="282.3" stroke="#111" stroke-width="1.1"/>
<line x1="438.9" y1="281.3" x2="444.6" y2="281.3" stroke="#111" stroke-width="1.1"/>
<rect x="436.7" y="282.3" width="10.1" height="20.3" fill="#fff" stroke="#111" stroke-width="1.4"/>
<line x1="453.6" y1="245.9" x2="453.6" y2="250.9" stroke="#111" stroke-width="1.1"/>
<line x1="450.8" y1="245.9" x2="456.4" y2="245.9" stroke="#111" stroke-width="1.1"/>
<rect x="448.2" y="250.9" width="10.7" height="51.7" fill="#6e6e6e" stroke="#111" stroke-width="1.4"/>
<line x1="477.1" y1="274.3" x2="477.1" y2="276.8" stroke="#111" stroke-width="1.1"/>
<line x1="474.3" y1="274.3" x2="479.9" y2="274.3" stroke="#111" stroke-width="1.1"/>
<rect x="471.7" y="276.8" width="10.8" height="25.8" fill="#fff" stroke="#111" stroke-width="1.4"/>
<line x1="489.6" y1="281.5" x2="489.6" y2="282.7" stroke="#111" stroke-width="1.1"/>
<line x1="486.8" y1="281.5" x2="492.4" y2="281.5" stroke="#111" stroke-width="1.1"/>
<rect x="483.9" y="282.7" width="11.4" height="19.9" fill="#6e6e6e" stroke="#111" stroke-width="1.4"/>
<line x1="452.1" y1="239.7" x2="492.1" y2="239.7" stroke="#1a1a1a" stroke-width="1.3"/>
<circle cx="472.9" cy="234.9" r="1.55" fill="#222"/>
<text class="b" transform="translate(408.3,269.8) rotate(-90)" font-size="10.2" text-anchor="middle" fill="#111" dy="3.65">MFI</text>
<text class="b" x="410.6" y="314.1" font-size="9.3" fill="#111" textLength="16.8" lengthAdjust="spacingAndGlyphs">LPS</text>
<path d="M440.70 310.80H442.50" stroke="#111" stroke-width="1.1" fill="none"/>
<path d="M453.60 311.00H458.00M455.80 308.70V313.30" stroke="#111" stroke-width="1.05" fill="none"/>
<path d="M476.40 310.80H478.20" stroke="#111" stroke-width="1.1" fill="none"/>
<path d="M486.60 311.00H491.00M488.80 308.70V313.30" stroke="#111" stroke-width="1.05" fill="none"/>
<line x1="431.9" y1="315.4" x2="463.2" y2="315.4" stroke="#111" stroke-width="1.2"/>
<line x1="469.6" y1="315.4" x2="501.2" y2="315.4" stroke="#111" stroke-width="1.2"/>
<path d="M441.70 320.20H446.70M444.20 317.40V323.00" stroke="#111" stroke-width="1.3" fill="none"/>
<path d="M448.00 323.10L450.60 317.30" stroke="#111" stroke-width="1.2" fill="none"/>
<path d="M453.00 320.20H458.00M455.50 317.40V323.00" stroke="#111" stroke-width="1.3" fill="none"/>
<path d="M474.00 320.40H478.60" stroke="#111" stroke-width="1.25" fill="none"/>
<path d="M480.60 323.10L483.20 317.30" stroke="#111" stroke-width="1.2" fill="none"/>
<path d="M484.80 320.40H489.40" stroke="#111" stroke-width="1.25" fill="none"/>
</svg>
</body></html>
